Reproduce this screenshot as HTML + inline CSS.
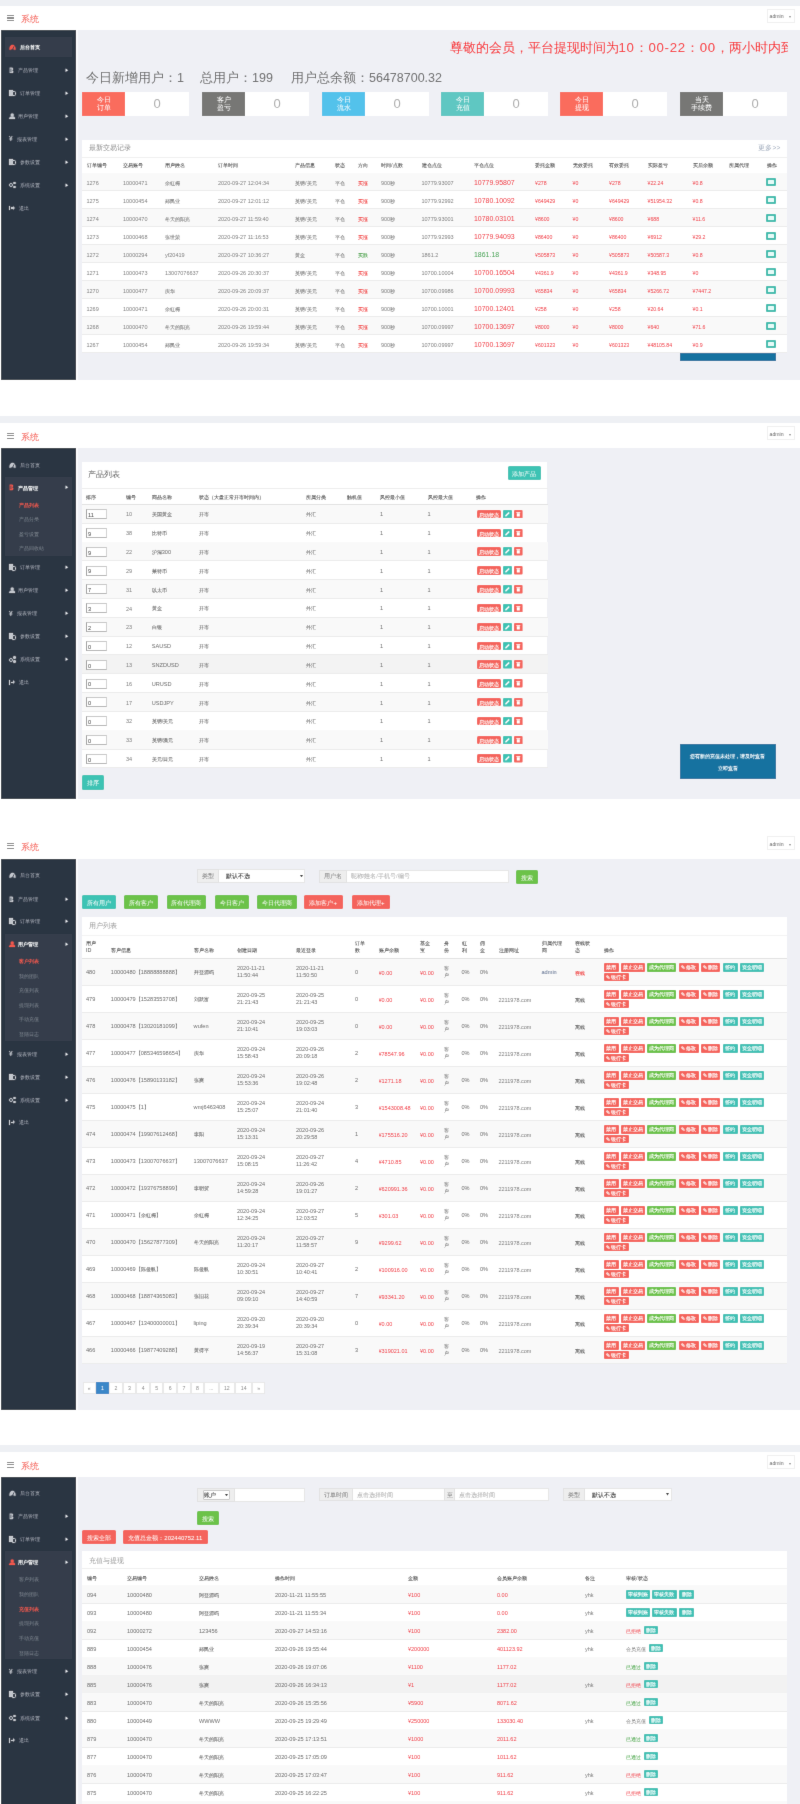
<!DOCTYPE html>
<html><head><meta charset="utf-8"><style>
html,body{margin:0;padding:0;background:#fff;width:800px;height:1804px;overflow:hidden}
body{position:relative;filter:url(#gb);font-family:"Liberation Sans",sans-serif}
body>div{position:absolute}
.t{white-space:nowrap}
.c{-webkit-text-stroke:0.08px currentColor}
.b{text-align:center;white-space:nowrap;overflow:hidden}
.bs{-webkit-text-stroke:0.12px currentColor}
</style></head><body><svg width="0" height="0" style="position:absolute;left:0;top:0"><filter id="gb" x="0" y="0" width="100%" height="100%"><feConvolveMatrix order="3" kernelMatrix="0.0052 0.0619 0.0052 0.0619 0.7314 0.0619 0.0052 0.0619 0.0052" edgeMode="duplicate" preserveAlpha="false"/></filter></svg>
<div style="left:0px;top:0px;width:800px;height:5.5px;background:#eef0f4;"></div>
<div style="left:0px;top:5.5px;width:800px;height:24.5px;background:#fff;"></div>
<div style="left:7px;top:15.15px;width:7px;height:1.3px;background:#858585;"></div>
<div style="left:7px;top:17.45px;width:7px;height:1.3px;background:#858585;"></div>
<div style="left:7px;top:19.75px;width:7px;height:1.3px;background:#858585;"></div>
<div class="t" style="left:21px;top:14.36px;font-size:8.6px;line-height:11.18px;color:#f4574d;">系统</div>
<div style="left:766.5px;top:8.55px;width:28px;height:14px;border:1px solid #f0f0f0;box-sizing:border-box;background:#fff"></div>
<div class="t" style="left:769.5px;top:13.17px;font-size:5.2px;line-height:6.76px;color:#666;">admin</div>
<div class="t" style="left:788.5px;top:14.25px;font-size:4px;line-height:5.20px;color:#888;">▾</div>
<div style="left:1px;top:30px;width:75px;height:350px;background:#2a3443;"></div>
<div style="left:75px;top:30px;width:1px;height:350px;background:#222b38;"></div>
<div style="left:5.3px;top:37px;width:66.9px;height:20px;background:#343e4c;"></div>
<svg style="position:absolute;left:8.8px;top:43.80px" width="7" height="6" viewBox="0 0 7 6"><path d="M0.2 5.8 C0.2 -1.0 6.8 -1.0 6.8 5.8 Z" fill="#f0584e"/><path d="M3.5 5.6 L5 2.4" stroke="#343e4c" stroke-width="0.9"/><path d="M2.3 5.6 L4.7 5.6" stroke="#343e4c" stroke-width="0.8"/></svg>
<div class="t" style="left:19.75px;top:43.79px;font-size:5.1px;line-height:6.63px;color:#fff;font-weight:bold">后台首页</div>
<svg style="position:absolute;left:9.2px;top:66.60px" width="5" height="6.8" viewBox="0 0 5 6.8"><path d="M0.6 0.5 H2.6 C4.6 0.5 4.6 3.2 2.8 3.3 C5 3.4 5 6.3 2.6 6.3 H0.6 Z" fill="#c3c7cd"/><path d="M1.9 1.6 V5.2" stroke="#2a3443" stroke-width="0.7"/></svg>
<div class="t" style="left:17.75px;top:66.78px;font-size:5.1px;line-height:6.63px;color:#aeb3bb;">产品管理</div>
<svg style="position:absolute;left:65.3px;top:67.70px" width="4" height="4.6" viewBox="0 0 4 4.6"><polygon points="0.5,0.6 3.1,2.3 0.5,4.0" fill="#e8eaee"/></svg>
<div style="left:9px;top:89.8px;width:4.2px;height:6.2px;background:#c3c7cd"></div>
<div style="left:11.6px;top:91.4px;width:4px;height:4.8px;border:1px solid #c3c7cd;box-sizing:border-box;border-radius:0 1.5px 1.5px 0;background:#2a3443"></div>
<div class="t" style="left:19.75px;top:89.78px;font-size:5.1px;line-height:6.63px;color:#aeb3bb;">订单管理</div>
<svg style="position:absolute;left:65.3px;top:90.70px" width="4" height="4.6" viewBox="0 0 4 4.6"><polygon points="0.5,0.6 3.1,2.3 0.5,4.0" fill="#e8eaee"/></svg>
<svg style="position:absolute;left:8.8px;top:112.60px" width="6.4" height="6.6" viewBox="0 0 6.4 6.6"><circle cx="3.2" cy="1.9" r="1.75" fill="#c3c7cd"/><path d="M0 6.6 C0 4.2 1.2 3.3 3.2 3.3 C5.2 3.3 6.4 4.2 6.4 6.6 Z" fill="#c3c7cd"/></svg>
<div class="t" style="left:18px;top:112.78px;font-size:5.1px;line-height:6.63px;color:#aeb3bb;">用户管理</div>
<svg style="position:absolute;left:65.3px;top:113.70px" width="4" height="4.6" viewBox="0 0 4 4.6"><polygon points="0.5,0.6 3.1,2.3 0.5,4.0" fill="#e8eaee"/></svg>
<div class="t" style="left:9px;top:135px;font-size:6.5px;line-height:8px;color:#c3c7cd;font-weight:bold">¥</div>
<div class="t" style="left:17px;top:135.78px;font-size:5.1px;line-height:6.63px;color:#aeb3bb;">报表管理</div>
<svg style="position:absolute;left:65.3px;top:136.70px" width="4" height="4.6" viewBox="0 0 4 4.6"><polygon points="0.5,0.6 3.1,2.3 0.5,4.0" fill="#e8eaee"/></svg>
<div style="left:9px;top:158.8px;width:4.2px;height:6.2px;background:#c3c7cd"></div>
<div style="left:11.6px;top:160.4px;width:4px;height:4.8px;border:1px solid #c3c7cd;box-sizing:border-box;border-radius:0 1.5px 1.5px 0;background:#2a3443"></div>
<div class="t" style="left:19.75px;top:158.78px;font-size:5.1px;line-height:6.63px;color:#aeb3bb;">参数设置</div>
<svg style="position:absolute;left:65.3px;top:159.70px" width="4" height="4.6" viewBox="0 0 4 4.6"><polygon points="0.5,0.6 3.1,2.3 0.5,4.0" fill="#e8eaee"/></svg>
<div style="left:9px;top:183px;width:4.2px;height:4.2px;border:1.2px solid #c3c7cd;border-radius:50%;box-sizing:border-box"></div>
<div style="left:13.2px;top:181.8px;width:2.6px;height:2.6px;background:#c3c7cd;border-radius:50%"></div>
<div style="left:13.2px;top:185.8px;width:2.6px;height:2.6px;background:#c3c7cd;border-radius:50%"></div>
<div class="t" style="left:20.2px;top:181.78px;font-size:5.1px;line-height:6.63px;color:#aeb3bb;">系统设置</div>
<svg style="position:absolute;left:65.3px;top:182.70px" width="4" height="4.6" viewBox="0 0 4 4.6"><polygon points="0.5,0.6 3.1,2.3 0.5,4.0" fill="#e8eaee"/></svg>
<div style="left:8.8px;top:205.8px;width:1.2px;height:4.4px;background:#c3c7cd"></div>
<div style="left:11px;top:207.2px;width:2px;height:1.6px;background:#c3c7cd"></div>
<div style="left:12.8px;top:205.8px;width:0;height:0;border-top:2.2px solid transparent;border-bottom:2.2px solid transparent;border-left:2.4px solid #c3c7cd"></div>
<div class="t" style="left:18.9px;top:204.78px;font-size:5.1px;line-height:6.63px;color:#aeb3bb;">退出</div>
<div style="left:76px;top:30px;width:2px;height:350px;background:#fafafc;"></div>
<div style="left:78px;top:30px;width:722px;height:350px;background:#eff0f5;"></div>
<div class="t" style="left:449.5px;top:38.92px;font-size:13.2px;line-height:17.16px;color:#f8262a;white-space:nowrap;width:338px;overflow:hidden">尊敬的会员，平台提现时间为<span style="letter-spacing:0.75px">10：00-22：00</span>，两小时内到账</div>
<div class="t" style="left:86px;top:69.88px;font-size:12.5px;line-height:16.25px;color:#686868;">今日新增用户：1</div>
<div class="t" style="left:200px;top:69.88px;font-size:12.5px;line-height:16.25px;color:#686868;">总用户：199</div>
<div class="t" style="left:291px;top:69.88px;font-size:12.5px;line-height:16.25px;color:#686868;">用户总余额：56478700.32</div>
<div style="left:82px;top:92px;width:107px;height:23.5px;background:#fff;"></div>
<div style="left:82px;top:92px;width:43px;height:23.5px;background:#fa6c5d;"></div>
<div class="t" style="left:82px;top:95.6px;width:43px;text-align:center;font-size:7.4px;line-height:8px;color:#fff">今日<br>订单</div>
<div class="t" style="left:137.00px;top:96.35px;width:40px;text-align:center;font-size:13px;line-height:16.90px;color:#aaa;">0</div>
<div style="left:202px;top:92px;width:107px;height:23.5px;background:#fff;"></div>
<div style="left:202px;top:92px;width:43px;height:23.5px;background:#777775;"></div>
<div class="t" style="left:202px;top:95.6px;width:43px;text-align:center;font-size:7.4px;line-height:8px;color:#fff">客户<br>盈亏</div>
<div class="t" style="left:257.00px;top:96.35px;width:40px;text-align:center;font-size:13px;line-height:16.90px;color:#aaa;">0</div>
<div style="left:322px;top:92px;width:107px;height:23.5px;background:#fff;"></div>
<div style="left:322px;top:92px;width:43px;height:23.5px;background:#52c2eb;"></div>
<div class="t" style="left:322px;top:95.6px;width:43px;text-align:center;font-size:7.4px;line-height:8px;color:#fff">今日<br>流水</div>
<div class="t" style="left:377.00px;top:96.35px;width:40px;text-align:center;font-size:13px;line-height:16.90px;color:#aaa;">0</div>
<div style="left:441px;top:92px;width:107px;height:23.5px;background:#fff;"></div>
<div style="left:441px;top:92px;width:43px;height:23.5px;background:#5ec7c2;"></div>
<div class="t" style="left:441px;top:95.6px;width:43px;text-align:center;font-size:7.4px;line-height:8px;color:#fff">今日<br>充值</div>
<div class="t" style="left:496.00px;top:96.35px;width:40px;text-align:center;font-size:13px;line-height:16.90px;color:#aaa;">0</div>
<div style="left:560px;top:92px;width:107px;height:23.5px;background:#fff;"></div>
<div style="left:560px;top:92px;width:43px;height:23.5px;background:#fa6c5d;"></div>
<div class="t" style="left:560px;top:95.6px;width:43px;text-align:center;font-size:7.4px;line-height:8px;color:#fff">今日<br>提现</div>
<div class="t" style="left:615.00px;top:96.35px;width:40px;text-align:center;font-size:13px;line-height:16.90px;color:#aaa;">0</div>
<div style="left:680px;top:92px;width:107px;height:23.5px;background:#fff;"></div>
<div style="left:680px;top:92px;width:43px;height:23.5px;background:#777775;"></div>
<div class="t" style="left:680px;top:95.6px;width:43px;text-align:center;font-size:7.4px;line-height:8px;color:#fff">当天<br>手续费</div>
<div class="t" style="left:735.00px;top:96.35px;width:40px;text-align:center;font-size:13px;line-height:16.90px;color:#aaa;">0</div>
<div style="left:680px;top:345px;width:96px;height:15.6px;background:#1272a0;"></div>
<div style="left:81.5px;top:139.5px;width:705px;height:213.5px;background:#fff;"></div>
<div class="t" style="left:88.5px;top:144.31px;font-size:6.6px;line-height:8.58px;color:#8a8a8a;">最新交易记录</div>
<div class="t" style="left:757.8px;top:144.11px;font-size:6.6px;line-height:8.58px;color:#9eaabb;letter-spacing:0.3px">更多&gt;&gt;</div>
<div style="left:81.5px;top:157px;width:705.5px;height:0.8px;background:#f0f0f0;"></div>
<div style="left:81.5px;top:172.5px;width:705.5px;height:1px;background:#e2e2e2;"></div>
<div class="t" style="left:86.5px;top:162.36px;font-size:5.6px;line-height:7.28px;color:#4a4a4a;"><span class="c" style="font-size:0.96em">订单编号</span></div>
<div class="t" style="left:123px;top:162.36px;font-size:5.6px;line-height:7.28px;color:#4a4a4a;"><span class="c" style="font-size:0.96em">交易账号</span></div>
<div class="t" style="left:165px;top:162.36px;font-size:5.6px;line-height:7.28px;color:#4a4a4a;"><span class="c" style="font-size:0.96em">用户姓名</span></div>
<div class="t" style="left:218px;top:162.36px;font-size:5.6px;line-height:7.28px;color:#4a4a4a;"><span class="c" style="font-size:0.96em">订单时间</span></div>
<div class="t" style="left:295px;top:162.36px;font-size:5.6px;line-height:7.28px;color:#4a4a4a;"><span class="c" style="font-size:0.96em">产品信息</span></div>
<div class="t" style="left:334.5px;top:162.36px;font-size:5.6px;line-height:7.28px;color:#4a4a4a;"><span class="c" style="font-size:0.96em">状态</span></div>
<div class="t" style="left:358px;top:162.36px;font-size:5.6px;line-height:7.28px;color:#4a4a4a;"><span class="c" style="font-size:0.96em">方向</span></div>
<div class="t" style="left:381px;top:162.36px;font-size:5.6px;line-height:7.28px;color:#4a4a4a;"><span class="c" style="font-size:0.96em">时间</span>/<span class="c" style="font-size:0.96em">点数</span></div>
<div class="t" style="left:421.5px;top:162.36px;font-size:5.6px;line-height:7.28px;color:#4a4a4a;"><span class="c" style="font-size:0.96em">建仓点位</span></div>
<div class="t" style="left:474px;top:162.36px;font-size:5.6px;line-height:7.28px;color:#4a4a4a;"><span class="c" style="font-size:0.96em">平仓点位</span></div>
<div class="t" style="left:535px;top:162.36px;font-size:5.6px;line-height:7.28px;color:#4a4a4a;"><span class="c" style="font-size:0.96em">委托金额</span></div>
<div class="t" style="left:572.5px;top:162.36px;font-size:5.6px;line-height:7.28px;color:#4a4a4a;"><span class="c" style="font-size:0.96em">无效委托</span></div>
<div class="t" style="left:609px;top:162.36px;font-size:5.6px;line-height:7.28px;color:#4a4a4a;"><span class="c" style="font-size:0.96em">有效委托</span></div>
<div class="t" style="left:647.5px;top:162.36px;font-size:5.6px;line-height:7.28px;color:#4a4a4a;"><span class="c" style="font-size:0.96em">实际盈亏</span></div>
<div class="t" style="left:692.5px;top:162.36px;font-size:5.6px;line-height:7.28px;color:#4a4a4a;"><span class="c" style="font-size:0.96em">买后余额</span></div>
<div class="t" style="left:728.5px;top:162.36px;font-size:5.6px;line-height:7.28px;color:#4a4a4a;"><span class="c" style="font-size:0.96em">所属代理</span></div>
<div class="t" style="left:766.5px;top:162.36px;font-size:5.6px;line-height:7.28px;color:#4a4a4a;"><span class="c" style="font-size:0.96em">操作</span></div>
<div style="left:81.5px;top:173px;width:705.5px;height:18px;background:#f9f9f9;"></div>
<div style="left:81.5px;top:190.3px;width:705.5px;height:0.7px;background:#ececec;"></div>
<div class="t" style="left:86.5px;top:179.62px;font-size:5.5px;line-height:7.15px;color:#7a7a7a;">1276</div>
<div class="t" style="left:123px;top:179.62px;font-size:5.5px;line-height:7.15px;color:#7a7a7a;">10000471</div>
<div class="t" style="left:165px;top:179.62px;font-size:5.5px;line-height:7.15px;color:#7a7a7a;"><span class="c" style="font-size:0.96em">余红梅</span></div>
<div class="t" style="left:218px;top:179.62px;font-size:5.5px;line-height:7.15px;color:#7a7a7a;">2020-09-27 12:04:34</div>
<div class="t" style="left:295px;top:179.62px;font-size:5.5px;line-height:7.15px;color:#7a7a7a;"><span class="c" style="font-size:0.96em">英镑</span>/<span class="c" style="font-size:0.96em">美元</span></div>
<div class="t" style="left:334.5px;top:179.62px;font-size:5.5px;line-height:7.15px;color:#7a7a7a;"><span class="c" style="font-size:0.96em">平仓</span></div>
<div class="t" style="left:358px;top:179.62px;font-size:5.5px;line-height:7.15px;color:#f03030;"><span class="c" style="font-size:0.96em">买涨</span></div>
<div class="t" style="left:381px;top:179.62px;font-size:5.5px;line-height:7.15px;color:#7a7a7a;">900<span class="c" style="font-size:0.96em">秒</span></div>
<div class="t" style="left:421.5px;top:179.62px;font-size:5.5px;line-height:7.15px;color:#7a7a7a;">10779.93007</div>
<div class="t" style="left:474px;top:178.00px;font-size:8px;line-height:10.40px;color:#f0303a;transform:scaleX(.87);transform-origin:0 50%">10779.95807</div>
<div class="t" style="left:535px;top:179.82px;font-size:5.2px;line-height:6.76px;color:#f0303a;">¥278</div>
<div class="t" style="left:572.5px;top:179.82px;font-size:5.2px;line-height:6.76px;color:#f0303a;">¥0</div>
<div class="t" style="left:609px;top:179.82px;font-size:5.2px;line-height:6.76px;color:#f0303a;">¥278</div>
<div class="t" style="left:647.5px;top:179.82px;font-size:5.2px;line-height:6.76px;color:#f0303a;">¥22.24</div>
<div class="t" style="left:692.5px;top:179.82px;font-size:5.2px;line-height:6.76px;color:#f0303a;">¥0.8</div>
<div style="left:765.5px;top:178.2px;width:10.5px;height:8px;background:#3cbdaf;border-radius:1px"></div>
<div style="left:768px;top:180.39999999999998px;width:5.5px;height:3.6px;background:#e6fbf8;border-radius:0.5px"></div>
<div style="left:81.5px;top:208.3px;width:705.5px;height:0.7px;background:#ececec;"></div>
<div class="t" style="left:86.5px;top:197.62px;font-size:5.5px;line-height:7.15px;color:#7a7a7a;">1275</div>
<div class="t" style="left:123px;top:197.62px;font-size:5.5px;line-height:7.15px;color:#7a7a7a;">10000454</div>
<div class="t" style="left:165px;top:197.62px;font-size:5.5px;line-height:7.15px;color:#7a7a7a;"><span class="c" style="font-size:0.96em">郑民业</span></div>
<div class="t" style="left:218px;top:197.62px;font-size:5.5px;line-height:7.15px;color:#7a7a7a;">2020-09-27 12:01:12</div>
<div class="t" style="left:295px;top:197.62px;font-size:5.5px;line-height:7.15px;color:#7a7a7a;"><span class="c" style="font-size:0.96em">英镑</span>/<span class="c" style="font-size:0.96em">美元</span></div>
<div class="t" style="left:334.5px;top:197.62px;font-size:5.5px;line-height:7.15px;color:#7a7a7a;"><span class="c" style="font-size:0.96em">平仓</span></div>
<div class="t" style="left:358px;top:197.62px;font-size:5.5px;line-height:7.15px;color:#f03030;"><span class="c" style="font-size:0.96em">买涨</span></div>
<div class="t" style="left:381px;top:197.62px;font-size:5.5px;line-height:7.15px;color:#7a7a7a;">900<span class="c" style="font-size:0.96em">秒</span></div>
<div class="t" style="left:421.5px;top:197.62px;font-size:5.5px;line-height:7.15px;color:#7a7a7a;">10779.92992</div>
<div class="t" style="left:474px;top:196.00px;font-size:8px;line-height:10.40px;color:#f0303a;transform:scaleX(.87);transform-origin:0 50%">10780.10092</div>
<div class="t" style="left:535px;top:197.82px;font-size:5.2px;line-height:6.76px;color:#f0303a;">¥649429</div>
<div class="t" style="left:572.5px;top:197.82px;font-size:5.2px;line-height:6.76px;color:#f0303a;">¥0</div>
<div class="t" style="left:609px;top:197.82px;font-size:5.2px;line-height:6.76px;color:#f0303a;">¥649429</div>
<div class="t" style="left:647.5px;top:197.82px;font-size:5.2px;line-height:6.76px;color:#f0303a;">¥51954.32</div>
<div class="t" style="left:692.5px;top:197.82px;font-size:5.2px;line-height:6.76px;color:#f0303a;">¥0.8</div>
<div style="left:765.5px;top:196.2px;width:10.5px;height:8px;background:#3cbdaf;border-radius:1px"></div>
<div style="left:768px;top:198.39999999999998px;width:5.5px;height:3.6px;background:#e6fbf8;border-radius:0.5px"></div>
<div style="left:81.5px;top:209px;width:705.5px;height:18px;background:#f9f9f9;"></div>
<div style="left:81.5px;top:226.3px;width:705.5px;height:0.7px;background:#ececec;"></div>
<div class="t" style="left:86.5px;top:215.62px;font-size:5.5px;line-height:7.15px;color:#7a7a7a;">1274</div>
<div class="t" style="left:123px;top:215.62px;font-size:5.5px;line-height:7.15px;color:#7a7a7a;">10000470</div>
<div class="t" style="left:165px;top:215.62px;font-size:5.5px;line-height:7.15px;color:#7a7a7a;"><span class="c" style="font-size:0.96em">冬天的阳光</span></div>
<div class="t" style="left:218px;top:215.62px;font-size:5.5px;line-height:7.15px;color:#7a7a7a;">2020-09-27 11:59:40</div>
<div class="t" style="left:295px;top:215.62px;font-size:5.5px;line-height:7.15px;color:#7a7a7a;"><span class="c" style="font-size:0.96em">英镑</span>/<span class="c" style="font-size:0.96em">美元</span></div>
<div class="t" style="left:334.5px;top:215.62px;font-size:5.5px;line-height:7.15px;color:#7a7a7a;"><span class="c" style="font-size:0.96em">平仓</span></div>
<div class="t" style="left:358px;top:215.62px;font-size:5.5px;line-height:7.15px;color:#f03030;"><span class="c" style="font-size:0.96em">买涨</span></div>
<div class="t" style="left:381px;top:215.62px;font-size:5.5px;line-height:7.15px;color:#7a7a7a;">900<span class="c" style="font-size:0.96em">秒</span></div>
<div class="t" style="left:421.5px;top:215.62px;font-size:5.5px;line-height:7.15px;color:#7a7a7a;">10779.93001</div>
<div class="t" style="left:474px;top:214.00px;font-size:8px;line-height:10.40px;color:#f0303a;transform:scaleX(.87);transform-origin:0 50%">10780.03101</div>
<div class="t" style="left:535px;top:215.82px;font-size:5.2px;line-height:6.76px;color:#f0303a;">¥8600</div>
<div class="t" style="left:572.5px;top:215.82px;font-size:5.2px;line-height:6.76px;color:#f0303a;">¥0</div>
<div class="t" style="left:609px;top:215.82px;font-size:5.2px;line-height:6.76px;color:#f0303a;">¥8600</div>
<div class="t" style="left:647.5px;top:215.82px;font-size:5.2px;line-height:6.76px;color:#f0303a;">¥688</div>
<div class="t" style="left:692.5px;top:215.82px;font-size:5.2px;line-height:6.76px;color:#f0303a;">¥11.6</div>
<div style="left:765.5px;top:214.2px;width:10.5px;height:8px;background:#3cbdaf;border-radius:1px"></div>
<div style="left:768px;top:216.39999999999998px;width:5.5px;height:3.6px;background:#e6fbf8;border-radius:0.5px"></div>
<div style="left:81.5px;top:244.3px;width:705.5px;height:0.7px;background:#ececec;"></div>
<div class="t" style="left:86.5px;top:233.62px;font-size:5.5px;line-height:7.15px;color:#7a7a7a;">1273</div>
<div class="t" style="left:123px;top:233.62px;font-size:5.5px;line-height:7.15px;color:#7a7a7a;">10000468</div>
<div class="t" style="left:165px;top:233.62px;font-size:5.5px;line-height:7.15px;color:#7a7a7a;"><span class="c" style="font-size:0.96em">张世荣</span></div>
<div class="t" style="left:218px;top:233.62px;font-size:5.5px;line-height:7.15px;color:#7a7a7a;">2020-09-27 11:16:53</div>
<div class="t" style="left:295px;top:233.62px;font-size:5.5px;line-height:7.15px;color:#7a7a7a;"><span class="c" style="font-size:0.96em">英镑</span>/<span class="c" style="font-size:0.96em">美元</span></div>
<div class="t" style="left:334.5px;top:233.62px;font-size:5.5px;line-height:7.15px;color:#7a7a7a;"><span class="c" style="font-size:0.96em">平仓</span></div>
<div class="t" style="left:358px;top:233.62px;font-size:5.5px;line-height:7.15px;color:#f03030;"><span class="c" style="font-size:0.96em">买涨</span></div>
<div class="t" style="left:381px;top:233.62px;font-size:5.5px;line-height:7.15px;color:#7a7a7a;">900<span class="c" style="font-size:0.96em">秒</span></div>
<div class="t" style="left:421.5px;top:233.62px;font-size:5.5px;line-height:7.15px;color:#7a7a7a;">10779.92993</div>
<div class="t" style="left:474px;top:232.00px;font-size:8px;line-height:10.40px;color:#f0303a;transform:scaleX(.87);transform-origin:0 50%">10779.94093</div>
<div class="t" style="left:535px;top:233.82px;font-size:5.2px;line-height:6.76px;color:#f0303a;">¥86400</div>
<div class="t" style="left:572.5px;top:233.82px;font-size:5.2px;line-height:6.76px;color:#f0303a;">¥0</div>
<div class="t" style="left:609px;top:233.82px;font-size:5.2px;line-height:6.76px;color:#f0303a;">¥86400</div>
<div class="t" style="left:647.5px;top:233.82px;font-size:5.2px;line-height:6.76px;color:#f0303a;">¥6912</div>
<div class="t" style="left:692.5px;top:233.82px;font-size:5.2px;line-height:6.76px;color:#f0303a;">¥29.2</div>
<div style="left:765.5px;top:232.2px;width:10.5px;height:8px;background:#3cbdaf;border-radius:1px"></div>
<div style="left:768px;top:234.39999999999998px;width:5.5px;height:3.6px;background:#e6fbf8;border-radius:0.5px"></div>
<div style="left:81.5px;top:245px;width:705.5px;height:18px;background:#f9f9f9;"></div>
<div style="left:81.5px;top:262.3px;width:705.5px;height:0.7px;background:#ececec;"></div>
<div class="t" style="left:86.5px;top:251.62px;font-size:5.5px;line-height:7.15px;color:#7a7a7a;">1272</div>
<div class="t" style="left:123px;top:251.62px;font-size:5.5px;line-height:7.15px;color:#7a7a7a;">10000294</div>
<div class="t" style="left:165px;top:251.62px;font-size:5.5px;line-height:7.15px;color:#7a7a7a;">yf20419</div>
<div class="t" style="left:218px;top:251.62px;font-size:5.5px;line-height:7.15px;color:#7a7a7a;">2020-09-27 10:36:27</div>
<div class="t" style="left:295px;top:251.62px;font-size:5.5px;line-height:7.15px;color:#7a7a7a;"><span class="c" style="font-size:0.96em">黄金</span></div>
<div class="t" style="left:334.5px;top:251.62px;font-size:5.5px;line-height:7.15px;color:#7a7a7a;"><span class="c" style="font-size:0.96em">平仓</span></div>
<div class="t" style="left:358px;top:251.62px;font-size:5.5px;line-height:7.15px;color:#3a9a3a;"><span class="c" style="font-size:0.96em">买跌</span></div>
<div class="t" style="left:381px;top:251.62px;font-size:5.5px;line-height:7.15px;color:#7a7a7a;">900<span class="c" style="font-size:0.96em">秒</span></div>
<div class="t" style="left:421.5px;top:251.62px;font-size:5.5px;line-height:7.15px;color:#7a7a7a;">1861.2</div>
<div class="t" style="left:474px;top:250.00px;font-size:8px;line-height:10.40px;color:#3aa04a;transform:scaleX(.87);transform-origin:0 50%">1861.18</div>
<div class="t" style="left:535px;top:251.82px;font-size:5.2px;line-height:6.76px;color:#f0303a;">¥505873</div>
<div class="t" style="left:572.5px;top:251.82px;font-size:5.2px;line-height:6.76px;color:#f0303a;">¥0</div>
<div class="t" style="left:609px;top:251.82px;font-size:5.2px;line-height:6.76px;color:#f0303a;">¥505873</div>
<div class="t" style="left:647.5px;top:251.82px;font-size:5.2px;line-height:6.76px;color:#f0303a;">¥50587.3</div>
<div class="t" style="left:692.5px;top:251.82px;font-size:5.2px;line-height:6.76px;color:#f0303a;">¥0.8</div>
<div style="left:765.5px;top:250.2px;width:10.5px;height:8px;background:#3cbdaf;border-radius:1px"></div>
<div style="left:768px;top:252.39999999999998px;width:5.5px;height:3.6px;background:#e6fbf8;border-radius:0.5px"></div>
<div style="left:81.5px;top:280.3px;width:705.5px;height:0.7px;background:#ececec;"></div>
<div class="t" style="left:86.5px;top:269.62px;font-size:5.5px;line-height:7.15px;color:#7a7a7a;">1271</div>
<div class="t" style="left:123px;top:269.62px;font-size:5.5px;line-height:7.15px;color:#7a7a7a;">10000473</div>
<div class="t" style="left:165px;top:269.62px;font-size:5.5px;line-height:7.15px;color:#7a7a7a;">13007076637</div>
<div class="t" style="left:218px;top:269.62px;font-size:5.5px;line-height:7.15px;color:#7a7a7a;">2020-09-26 20:30:37</div>
<div class="t" style="left:295px;top:269.62px;font-size:5.5px;line-height:7.15px;color:#7a7a7a;"><span class="c" style="font-size:0.96em">英镑</span>/<span class="c" style="font-size:0.96em">美元</span></div>
<div class="t" style="left:334.5px;top:269.62px;font-size:5.5px;line-height:7.15px;color:#7a7a7a;"><span class="c" style="font-size:0.96em">平仓</span></div>
<div class="t" style="left:358px;top:269.62px;font-size:5.5px;line-height:7.15px;color:#f03030;"><span class="c" style="font-size:0.96em">买涨</span></div>
<div class="t" style="left:381px;top:269.62px;font-size:5.5px;line-height:7.15px;color:#7a7a7a;">900<span class="c" style="font-size:0.96em">秒</span></div>
<div class="t" style="left:421.5px;top:269.62px;font-size:5.5px;line-height:7.15px;color:#7a7a7a;">10700.10004</div>
<div class="t" style="left:474px;top:268.00px;font-size:8px;line-height:10.40px;color:#f0303a;transform:scaleX(.87);transform-origin:0 50%">10700.16504</div>
<div class="t" style="left:535px;top:269.82px;font-size:5.2px;line-height:6.76px;color:#f0303a;">¥4361.9</div>
<div class="t" style="left:572.5px;top:269.82px;font-size:5.2px;line-height:6.76px;color:#f0303a;">¥0</div>
<div class="t" style="left:609px;top:269.82px;font-size:5.2px;line-height:6.76px;color:#f0303a;">¥4361.9</div>
<div class="t" style="left:647.5px;top:269.82px;font-size:5.2px;line-height:6.76px;color:#f0303a;">¥348.95</div>
<div class="t" style="left:692.5px;top:269.82px;font-size:5.2px;line-height:6.76px;color:#f0303a;">¥0</div>
<div style="left:765.5px;top:268.2px;width:10.5px;height:8px;background:#3cbdaf;border-radius:1px"></div>
<div style="left:768px;top:270.4px;width:5.5px;height:3.6px;background:#e6fbf8;border-radius:0.5px"></div>
<div style="left:81.5px;top:281px;width:705.5px;height:18px;background:#f9f9f9;"></div>
<div style="left:81.5px;top:298.3px;width:705.5px;height:0.7px;background:#ececec;"></div>
<div class="t" style="left:86.5px;top:287.62px;font-size:5.5px;line-height:7.15px;color:#7a7a7a;">1270</div>
<div class="t" style="left:123px;top:287.62px;font-size:5.5px;line-height:7.15px;color:#7a7a7a;">10000477</div>
<div class="t" style="left:165px;top:287.62px;font-size:5.5px;line-height:7.15px;color:#7a7a7a;"><span class="c" style="font-size:0.96em">庆华</span></div>
<div class="t" style="left:218px;top:287.62px;font-size:5.5px;line-height:7.15px;color:#7a7a7a;">2020-09-26 20:09:37</div>
<div class="t" style="left:295px;top:287.62px;font-size:5.5px;line-height:7.15px;color:#7a7a7a;"><span class="c" style="font-size:0.96em">英镑</span>/<span class="c" style="font-size:0.96em">美元</span></div>
<div class="t" style="left:334.5px;top:287.62px;font-size:5.5px;line-height:7.15px;color:#7a7a7a;"><span class="c" style="font-size:0.96em">平仓</span></div>
<div class="t" style="left:358px;top:287.62px;font-size:5.5px;line-height:7.15px;color:#f03030;"><span class="c" style="font-size:0.96em">买涨</span></div>
<div class="t" style="left:381px;top:287.62px;font-size:5.5px;line-height:7.15px;color:#7a7a7a;">900<span class="c" style="font-size:0.96em">秒</span></div>
<div class="t" style="left:421.5px;top:287.62px;font-size:5.5px;line-height:7.15px;color:#7a7a7a;">10700.09986</div>
<div class="t" style="left:474px;top:286.00px;font-size:8px;line-height:10.40px;color:#f0303a;transform:scaleX(.87);transform-origin:0 50%">10700.09993</div>
<div class="t" style="left:535px;top:287.82px;font-size:5.2px;line-height:6.76px;color:#f0303a;">¥65834</div>
<div class="t" style="left:572.5px;top:287.82px;font-size:5.2px;line-height:6.76px;color:#f0303a;">¥0</div>
<div class="t" style="left:609px;top:287.82px;font-size:5.2px;line-height:6.76px;color:#f0303a;">¥65834</div>
<div class="t" style="left:647.5px;top:287.82px;font-size:5.2px;line-height:6.76px;color:#f0303a;">¥5266.72</div>
<div class="t" style="left:692.5px;top:287.82px;font-size:5.2px;line-height:6.76px;color:#f0303a;">¥7447.2</div>
<div style="left:765.5px;top:286.2px;width:10.5px;height:8px;background:#3cbdaf;border-radius:1px"></div>
<div style="left:768px;top:288.4px;width:5.5px;height:3.6px;background:#e6fbf8;border-radius:0.5px"></div>
<div style="left:81.5px;top:316.3px;width:705.5px;height:0.7px;background:#ececec;"></div>
<div class="t" style="left:86.5px;top:305.62px;font-size:5.5px;line-height:7.15px;color:#7a7a7a;">1269</div>
<div class="t" style="left:123px;top:305.62px;font-size:5.5px;line-height:7.15px;color:#7a7a7a;">10000471</div>
<div class="t" style="left:165px;top:305.62px;font-size:5.5px;line-height:7.15px;color:#7a7a7a;"><span class="c" style="font-size:0.96em">余红梅</span></div>
<div class="t" style="left:218px;top:305.62px;font-size:5.5px;line-height:7.15px;color:#7a7a7a;">2020-09-26 20:00:31</div>
<div class="t" style="left:295px;top:305.62px;font-size:5.5px;line-height:7.15px;color:#7a7a7a;"><span class="c" style="font-size:0.96em">英镑</span>/<span class="c" style="font-size:0.96em">美元</span></div>
<div class="t" style="left:334.5px;top:305.62px;font-size:5.5px;line-height:7.15px;color:#7a7a7a;"><span class="c" style="font-size:0.96em">平仓</span></div>
<div class="t" style="left:358px;top:305.62px;font-size:5.5px;line-height:7.15px;color:#f03030;"><span class="c" style="font-size:0.96em">买涨</span></div>
<div class="t" style="left:381px;top:305.62px;font-size:5.5px;line-height:7.15px;color:#7a7a7a;">900<span class="c" style="font-size:0.96em">秒</span></div>
<div class="t" style="left:421.5px;top:305.62px;font-size:5.5px;line-height:7.15px;color:#7a7a7a;">10700.10001</div>
<div class="t" style="left:474px;top:304.00px;font-size:8px;line-height:10.40px;color:#f0303a;transform:scaleX(.87);transform-origin:0 50%">10700.12401</div>
<div class="t" style="left:535px;top:305.82px;font-size:5.2px;line-height:6.76px;color:#f0303a;">¥258</div>
<div class="t" style="left:572.5px;top:305.82px;font-size:5.2px;line-height:6.76px;color:#f0303a;">¥0</div>
<div class="t" style="left:609px;top:305.82px;font-size:5.2px;line-height:6.76px;color:#f0303a;">¥258</div>
<div class="t" style="left:647.5px;top:305.82px;font-size:5.2px;line-height:6.76px;color:#f0303a;">¥20.64</div>
<div class="t" style="left:692.5px;top:305.82px;font-size:5.2px;line-height:6.76px;color:#f0303a;">¥0.1</div>
<div style="left:765.5px;top:304.2px;width:10.5px;height:8px;background:#3cbdaf;border-radius:1px"></div>
<div style="left:768px;top:306.4px;width:5.5px;height:3.6px;background:#e6fbf8;border-radius:0.5px"></div>
<div style="left:81.5px;top:317px;width:705.5px;height:18px;background:#f9f9f9;"></div>
<div style="left:81.5px;top:334.3px;width:705.5px;height:0.7px;background:#ececec;"></div>
<div class="t" style="left:86.5px;top:323.62px;font-size:5.5px;line-height:7.15px;color:#7a7a7a;">1268</div>
<div class="t" style="left:123px;top:323.62px;font-size:5.5px;line-height:7.15px;color:#7a7a7a;">10000470</div>
<div class="t" style="left:165px;top:323.62px;font-size:5.5px;line-height:7.15px;color:#7a7a7a;"><span class="c" style="font-size:0.96em">冬天的阳光</span></div>
<div class="t" style="left:218px;top:323.62px;font-size:5.5px;line-height:7.15px;color:#7a7a7a;">2020-09-26 19:59:44</div>
<div class="t" style="left:295px;top:323.62px;font-size:5.5px;line-height:7.15px;color:#7a7a7a;"><span class="c" style="font-size:0.96em">英镑</span>/<span class="c" style="font-size:0.96em">美元</span></div>
<div class="t" style="left:334.5px;top:323.62px;font-size:5.5px;line-height:7.15px;color:#7a7a7a;"><span class="c" style="font-size:0.96em">平仓</span></div>
<div class="t" style="left:358px;top:323.62px;font-size:5.5px;line-height:7.15px;color:#f03030;"><span class="c" style="font-size:0.96em">买涨</span></div>
<div class="t" style="left:381px;top:323.62px;font-size:5.5px;line-height:7.15px;color:#7a7a7a;">900<span class="c" style="font-size:0.96em">秒</span></div>
<div class="t" style="left:421.5px;top:323.62px;font-size:5.5px;line-height:7.15px;color:#7a7a7a;">10700.09997</div>
<div class="t" style="left:474px;top:322.00px;font-size:8px;line-height:10.40px;color:#f0303a;transform:scaleX(.87);transform-origin:0 50%">10700.13697</div>
<div class="t" style="left:535px;top:323.82px;font-size:5.2px;line-height:6.76px;color:#f0303a;">¥8000</div>
<div class="t" style="left:572.5px;top:323.82px;font-size:5.2px;line-height:6.76px;color:#f0303a;">¥0</div>
<div class="t" style="left:609px;top:323.82px;font-size:5.2px;line-height:6.76px;color:#f0303a;">¥8000</div>
<div class="t" style="left:647.5px;top:323.82px;font-size:5.2px;line-height:6.76px;color:#f0303a;">¥640</div>
<div class="t" style="left:692.5px;top:323.82px;font-size:5.2px;line-height:6.76px;color:#f0303a;">¥71.6</div>
<div style="left:765.5px;top:322.2px;width:10.5px;height:8px;background:#3cbdaf;border-radius:1px"></div>
<div style="left:768px;top:324.4px;width:5.5px;height:3.6px;background:#e6fbf8;border-radius:0.5px"></div>
<div style="left:81.5px;top:352.3px;width:705.5px;height:0.7px;background:#ececec;"></div>
<div class="t" style="left:86.5px;top:341.62px;font-size:5.5px;line-height:7.15px;color:#7a7a7a;">1267</div>
<div class="t" style="left:123px;top:341.62px;font-size:5.5px;line-height:7.15px;color:#7a7a7a;">10000454</div>
<div class="t" style="left:165px;top:341.62px;font-size:5.5px;line-height:7.15px;color:#7a7a7a;"><span class="c" style="font-size:0.96em">郑民业</span></div>
<div class="t" style="left:218px;top:341.62px;font-size:5.5px;line-height:7.15px;color:#7a7a7a;">2020-09-26 19:59:34</div>
<div class="t" style="left:295px;top:341.62px;font-size:5.5px;line-height:7.15px;color:#7a7a7a;"><span class="c" style="font-size:0.96em">英镑</span>/<span class="c" style="font-size:0.96em">美元</span></div>
<div class="t" style="left:334.5px;top:341.62px;font-size:5.5px;line-height:7.15px;color:#7a7a7a;"><span class="c" style="font-size:0.96em">平仓</span></div>
<div class="t" style="left:358px;top:341.62px;font-size:5.5px;line-height:7.15px;color:#f03030;"><span class="c" style="font-size:0.96em">买涨</span></div>
<div class="t" style="left:381px;top:341.62px;font-size:5.5px;line-height:7.15px;color:#7a7a7a;">900<span class="c" style="font-size:0.96em">秒</span></div>
<div class="t" style="left:421.5px;top:341.62px;font-size:5.5px;line-height:7.15px;color:#7a7a7a;">10700.09997</div>
<div class="t" style="left:474px;top:340.00px;font-size:8px;line-height:10.40px;color:#f0303a;transform:scaleX(.87);transform-origin:0 50%">10700.13697</div>
<div class="t" style="left:535px;top:341.82px;font-size:5.2px;line-height:6.76px;color:#f0303a;">¥601323</div>
<div class="t" style="left:572.5px;top:341.82px;font-size:5.2px;line-height:6.76px;color:#f0303a;">¥0</div>
<div class="t" style="left:609px;top:341.82px;font-size:5.2px;line-height:6.76px;color:#f0303a;">¥601323</div>
<div class="t" style="left:647.5px;top:341.82px;font-size:5.2px;line-height:6.76px;color:#f0303a;">¥48105.84</div>
<div class="t" style="left:692.5px;top:341.82px;font-size:5.2px;line-height:6.76px;color:#f0303a;">¥0.9</div>
<div style="left:765.5px;top:340.2px;width:10.5px;height:8px;background:#3cbdaf;border-radius:1px"></div>
<div style="left:768px;top:342.4px;width:5.5px;height:3.6px;background:#e6fbf8;border-radius:0.5px"></div>
<div style="left:0px;top:415.5px;width:800px;height:7.5px;background:#eef0f4;"></div>
<div style="left:0px;top:423px;width:800px;height:25px;background:#fff;"></div>
<div style="left:7px;top:432.9px;width:7px;height:1.3px;background:#858585;"></div>
<div style="left:7px;top:435.2px;width:7px;height:1.3px;background:#858585;"></div>
<div style="left:7px;top:437.5px;width:7px;height:1.3px;background:#858585;"></div>
<div class="t" style="left:21px;top:432.11px;font-size:8.6px;line-height:11.18px;color:#f4574d;">系统</div>
<div style="left:766.5px;top:426.3px;width:28px;height:14px;border:1px solid #f0f0f0;box-sizing:border-box;background:#fff"></div>
<div class="t" style="left:769.5px;top:430.92px;font-size:5.2px;line-height:6.76px;color:#666;">admin</div>
<div class="t" style="left:788.5px;top:432.00px;font-size:4px;line-height:5.20px;color:#888;">▾</div>
<div style="left:1px;top:448px;width:75px;height:351px;background:#2a3443;"></div>
<div style="left:75px;top:448px;width:1px;height:351px;background:#222b38;"></div>
<div style="left:5.3px;top:477px;width:66.9px;height:78.60000000000002px;background:#343e4c;"></div>
<svg style="position:absolute;left:8.8px;top:461.80px" width="7" height="6" viewBox="0 0 7 6"><path d="M0.2 5.8 C0.2 -1.0 6.8 -1.0 6.8 5.8 Z" fill="#c3c7cd"/><path d="M3.5 5.6 L5 2.4" stroke="#2a3443" stroke-width="0.9"/><path d="M2.3 5.6 L4.7 5.6" stroke="#2a3443" stroke-width="0.8"/></svg>
<div class="t" style="left:19.75px;top:461.79px;font-size:5.1px;line-height:6.63px;color:#aeb3bb;">后台首页</div>
<svg style="position:absolute;left:9.2px;top:484.35px" width="5" height="6.8" viewBox="0 0 5 6.8"><path d="M0.6 0.5 H2.6 C4.6 0.5 4.6 3.2 2.8 3.3 C5 3.4 5 6.3 2.6 6.3 H0.6 Z" fill="#f0584e"/><path d="M1.9 1.6 V5.2" stroke="#343e4c" stroke-width="0.7"/></svg>
<div class="t" style="left:17.75px;top:484.54px;font-size:5.1px;line-height:6.63px;color:#fff;font-weight:bold">产品管理</div>
<svg style="position:absolute;left:65.3px;top:485.45px" width="4" height="4.6" viewBox="0 0 4 4.6"><polygon points="0.5,0.6 3.1,2.3 0.5,4.0" fill="#e8eaee"/></svg>
<div style="left:9px;top:564.3px;width:4.2px;height:6.2px;background:#c3c7cd"></div>
<div style="left:11.6px;top:565.9px;width:4px;height:4.8px;border:1px solid #c3c7cd;box-sizing:border-box;border-radius:0 1.5px 1.5px 0;background:#2a3443"></div>
<div class="t" style="left:19.75px;top:564.28px;font-size:5.1px;line-height:6.63px;color:#aeb3bb;">订单管理</div>
<svg style="position:absolute;left:65.3px;top:565.20px" width="4" height="4.6" viewBox="0 0 4 4.6"><polygon points="0.5,0.6 3.1,2.3 0.5,4.0" fill="#e8eaee"/></svg>
<svg style="position:absolute;left:8.8px;top:586.60px" width="6.4" height="6.6" viewBox="0 0 6.4 6.6"><circle cx="3.2" cy="1.9" r="1.75" fill="#c3c7cd"/><path d="M0 6.6 C0 4.2 1.2 3.3 3.2 3.3 C5.2 3.3 6.4 4.2 6.4 6.6 Z" fill="#c3c7cd"/></svg>
<div class="t" style="left:18px;top:586.78px;font-size:5.1px;line-height:6.63px;color:#aeb3bb;">用户管理</div>
<svg style="position:absolute;left:65.3px;top:587.70px" width="4" height="4.6" viewBox="0 0 4 4.6"><polygon points="0.5,0.6 3.1,2.3 0.5,4.0" fill="#e8eaee"/></svg>
<div class="t" style="left:9px;top:609.5px;font-size:6.5px;line-height:8px;color:#c3c7cd;font-weight:bold">¥</div>
<div class="t" style="left:17px;top:610.28px;font-size:5.1px;line-height:6.63px;color:#aeb3bb;">报表管理</div>
<svg style="position:absolute;left:65.3px;top:611.20px" width="4" height="4.6" viewBox="0 0 4 4.6"><polygon points="0.5,0.6 3.1,2.3 0.5,4.0" fill="#e8eaee"/></svg>
<div style="left:9px;top:633.3px;width:4.2px;height:6.2px;background:#c3c7cd"></div>
<div style="left:11.6px;top:634.9px;width:4px;height:4.8px;border:1px solid #c3c7cd;box-sizing:border-box;border-radius:0 1.5px 1.5px 0;background:#2a3443"></div>
<div class="t" style="left:19.75px;top:633.28px;font-size:5.1px;line-height:6.63px;color:#aeb3bb;">参数设置</div>
<svg style="position:absolute;left:65.3px;top:634.20px" width="4" height="4.6" viewBox="0 0 4 4.6"><polygon points="0.5,0.6 3.1,2.3 0.5,4.0" fill="#e8eaee"/></svg>
<div style="left:9px;top:657.5px;width:4.2px;height:4.2px;border:1.2px solid #c3c7cd;border-radius:50%;box-sizing:border-box"></div>
<div style="left:13.2px;top:656.3px;width:2.6px;height:2.6px;background:#c3c7cd;border-radius:50%"></div>
<div style="left:13.2px;top:660.3px;width:2.6px;height:2.6px;background:#c3c7cd;border-radius:50%"></div>
<div class="t" style="left:20.2px;top:656.28px;font-size:5.1px;line-height:6.63px;color:#aeb3bb;">系统设置</div>
<svg style="position:absolute;left:65.3px;top:657.20px" width="4" height="4.6" viewBox="0 0 4 4.6"><polygon points="0.5,0.6 3.1,2.3 0.5,4.0" fill="#e8eaee"/></svg>
<div style="left:8.8px;top:680.3px;width:1.2px;height:4.4px;background:#c3c7cd"></div>
<div style="left:11px;top:681.7px;width:2px;height:1.6px;background:#c3c7cd"></div>
<div style="left:12.8px;top:680.3px;width:0;height:0;border-top:2.2px solid transparent;border-bottom:2.2px solid transparent;border-left:2.4px solid #c3c7cd"></div>
<div class="t" style="left:18.9px;top:679.28px;font-size:5.1px;line-height:6.63px;color:#aeb3bb;">退出</div>
<div class="t" style="left:18.7px;top:501.54px;font-size:5.1px;line-height:6.63px;color:#f0584e;font-weight:bold">产品列表</div>
<div class="t" style="left:18.7px;top:515.78px;font-size:5.1px;line-height:6.63px;color:#80868f;">产品分类</div>
<div class="t" style="left:18.7px;top:530.53px;font-size:5.1px;line-height:6.63px;color:#80868f;">盈亏设置</div>
<div class="t" style="left:18.7px;top:544.78px;font-size:5.1px;line-height:6.63px;color:#80868f;">产品回收站</div>
<div style="left:76px;top:448px;width:2px;height:351px;background:#fafafc;"></div>
<div style="left:78px;top:448px;width:722px;height:351px;background:#eff0f5;"></div>
<div style="left:81.5px;top:461.8px;width:465.4px;height:306.3px;background:#fff;"></div>
<div class="t" style="left:88px;top:469.80px;font-size:8px;line-height:10.40px;color:#555;">产品列表</div>
<div class="b" style="left:507.5px;top:466px;width:33.5px;height:14px;background:#3ec3b4;border-radius:1.5px;font-size:6.1px;line-height:16.0px;color:#fff">添加产品</div>
<div style="left:81.5px;top:488px;width:466px;height:0.8px;background:#eee;"></div>
<div style="left:81.5px;top:504px;width:466px;height:1px;background:#e2e2e2;"></div>
<div class="t" style="left:86px;top:494.36px;font-size:5.6px;line-height:7.28px;color:#4a4a4a;"><span class="c" style="font-size:0.96em">排序</span></div>
<div class="t" style="left:126px;top:494.36px;font-size:5.6px;line-height:7.28px;color:#4a4a4a;"><span class="c" style="font-size:0.96em">编号</span></div>
<div class="t" style="left:151.75px;top:494.36px;font-size:5.6px;line-height:7.28px;color:#4a4a4a;"><span class="c" style="font-size:0.96em">商品名称</span></div>
<div class="t" style="left:199px;top:494.36px;font-size:5.6px;line-height:7.28px;color:#4a4a4a;"><span class="c" style="font-size:0.96em">状态（大盘正常开市时间内）</span></div>
<div class="t" style="left:306px;top:494.36px;font-size:5.6px;line-height:7.28px;color:#4a4a4a;"><span class="c" style="font-size:0.96em">所属分类</span></div>
<div class="t" style="left:347px;top:494.36px;font-size:5.6px;line-height:7.28px;color:#4a4a4a;"><span class="c" style="font-size:0.96em">触机值</span></div>
<div class="t" style="left:380px;top:494.36px;font-size:5.6px;line-height:7.28px;color:#4a4a4a;"><span class="c" style="font-size:0.96em">风控最小值</span></div>
<div class="t" style="left:427.5px;top:494.36px;font-size:5.6px;line-height:7.28px;color:#4a4a4a;"><span class="c" style="font-size:0.96em">风控最大值</span></div>
<div class="t" style="left:476px;top:494.36px;font-size:5.6px;line-height:7.28px;color:#4a4a4a;"><span class="c" style="font-size:0.96em">操作</span></div>
<div style="left:81.5px;top:504.6px;width:466px;height:18.82px;background:#f9f9f9;"></div>
<div style="left:81.5px;top:522.7px;width:466px;height:0.7px;background:#ececec;"></div>
<div style="left:86.2px;top:509.20px;width:21.2px;height:10px;border:0.9px solid;border-color:#c6c6c6 #d2d2d2 #b4b4b4 #9c9c9c;box-sizing:border-box;background:#fff"></div>
<div class="t" style="left:88px;top:511.96px;font-size:5.6px;line-height:7.28px;color:#333;">11</div>
<div class="t" style="left:126px;top:511.43px;font-size:5.5px;line-height:7.15px;color:#777;">10</div>
<div class="t" style="left:151.75px;top:511.36px;font-size:5.6px;line-height:7.28px;color:#666;"><span class="c" style="font-size:0.96em">美国黄金</span></div>
<div class="t" style="left:199px;top:511.36px;font-size:5.6px;line-height:7.28px;color:#666;"><span class="c" style="font-size:0.96em">开市</span></div>
<div class="t" style="left:306px;top:511.36px;font-size:5.6px;line-height:7.28px;color:#666;"><span class="c" style="font-size:0.96em">外汇</span></div>
<div class="t" style="left:380px;top:511.36px;font-size:5.6px;line-height:7.28px;color:#666;">1</div>
<div class="t" style="left:427.5px;top:511.36px;font-size:5.6px;line-height:7.28px;color:#666;">1</div>
<div class="b bs" style="left:476.5px;top:509.8px;width:24.5px;height:8.4px;background:#f4645b;border-radius:1.5px;font-size:5.0px;line-height:10.4px;color:#fff">启动状态</div>
<svg style="position:absolute;left:503px;top:509.80px" width="9" height="8.5" viewBox="0 0 9 8.5"><rect width="9" height="8.5" rx="1" fill="#3ec3b4"/><path d="M2.6 6.1 L6.2 2.5" stroke="#fff" stroke-width="1.4"/><path d="M2.2 6.6 L2.5 5.5 L3.3 6.3Z" fill="#fff"/></svg>
<svg style="position:absolute;left:514px;top:509.80px" width="8.6" height="8.5" viewBox="0 0 8.6 8.5"><rect width="8.6" height="8.5" rx="1" fill="#f4645b"/><rect x="2.3" y="2.2" width="4" height="0.8" fill="#fff"/><rect x="2.8" y="3.2" width="3" height="3.3" fill="#fff"/></svg>
<div style="left:81.5px;top:541.5200000000001px;width:466px;height:0.7px;background:#ececec;"></div>
<div style="left:86.2px;top:528.02px;width:21.2px;height:10px;border:0.9px solid;border-color:#c6c6c6 #d2d2d2 #b4b4b4 #9c9c9c;box-sizing:border-box;background:#fff"></div>
<div class="t" style="left:88px;top:530.78px;font-size:5.6px;line-height:7.28px;color:#333;">9</div>
<div class="t" style="left:126px;top:530.25px;font-size:5.5px;line-height:7.15px;color:#777;">38</div>
<div class="t" style="left:151.75px;top:530.18px;font-size:5.6px;line-height:7.28px;color:#666;"><span class="c" style="font-size:0.96em">比特币</span></div>
<div class="t" style="left:199px;top:530.18px;font-size:5.6px;line-height:7.28px;color:#666;"><span class="c" style="font-size:0.96em">开市</span></div>
<div class="t" style="left:306px;top:530.18px;font-size:5.6px;line-height:7.28px;color:#666;"><span class="c" style="font-size:0.96em">外汇</span></div>
<div class="t" style="left:380px;top:530.18px;font-size:5.6px;line-height:7.28px;color:#666;">1</div>
<div class="t" style="left:427.5px;top:530.18px;font-size:5.6px;line-height:7.28px;color:#666;">1</div>
<div class="b bs" style="left:476.5px;top:528.62px;width:24.5px;height:8.4px;background:#f4645b;border-radius:1.5px;font-size:5.0px;line-height:10.4px;color:#fff">启动状态</div>
<svg style="position:absolute;left:503px;top:528.62px" width="9" height="8.5" viewBox="0 0 9 8.5"><rect width="9" height="8.5" rx="1" fill="#3ec3b4"/><path d="M2.6 6.1 L6.2 2.5" stroke="#fff" stroke-width="1.4"/><path d="M2.2 6.6 L2.5 5.5 L3.3 6.3Z" fill="#fff"/></svg>
<svg style="position:absolute;left:514px;top:528.62px" width="8.6" height="8.5" viewBox="0 0 8.6 8.5"><rect width="8.6" height="8.5" rx="1" fill="#f4645b"/><rect x="2.3" y="2.2" width="4" height="0.8" fill="#fff"/><rect x="2.8" y="3.2" width="3" height="3.3" fill="#fff"/></svg>
<div style="left:81.5px;top:542.24px;width:466px;height:18.82px;background:#f9f9f9;"></div>
<div style="left:81.5px;top:560.34px;width:466px;height:0.7px;background:#ececec;"></div>
<div style="left:86.2px;top:546.84px;width:21.2px;height:10px;border:0.9px solid;border-color:#c6c6c6 #d2d2d2 #b4b4b4 #9c9c9c;box-sizing:border-box;background:#fff"></div>
<div class="t" style="left:88px;top:549.60px;font-size:5.6px;line-height:7.28px;color:#333;">9</div>
<div class="t" style="left:126px;top:549.06px;font-size:5.5px;line-height:7.15px;color:#777;">22</div>
<div class="t" style="left:151.75px;top:549.00px;font-size:5.6px;line-height:7.28px;color:#666;"><span class="c" style="font-size:0.96em">沪深</span>300</div>
<div class="t" style="left:199px;top:549.00px;font-size:5.6px;line-height:7.28px;color:#666;"><span class="c" style="font-size:0.96em">开市</span></div>
<div class="t" style="left:306px;top:549.00px;font-size:5.6px;line-height:7.28px;color:#666;"><span class="c" style="font-size:0.96em">外汇</span></div>
<div class="t" style="left:380px;top:549.00px;font-size:5.6px;line-height:7.28px;color:#666;">1</div>
<div class="t" style="left:427.5px;top:549.00px;font-size:5.6px;line-height:7.28px;color:#666;">1</div>
<div class="b bs" style="left:476.5px;top:547.4399999999999px;width:24.5px;height:8.4px;background:#f4645b;border-radius:1.5px;font-size:5.0px;line-height:10.4px;color:#fff">启动状态</div>
<svg style="position:absolute;left:503px;top:547.44px" width="9" height="8.5" viewBox="0 0 9 8.5"><rect width="9" height="8.5" rx="1" fill="#3ec3b4"/><path d="M2.6 6.1 L6.2 2.5" stroke="#fff" stroke-width="1.4"/><path d="M2.2 6.6 L2.5 5.5 L3.3 6.3Z" fill="#fff"/></svg>
<svg style="position:absolute;left:514px;top:547.44px" width="8.6" height="8.5" viewBox="0 0 8.6 8.5"><rect width="8.6" height="8.5" rx="1" fill="#f4645b"/><rect x="2.3" y="2.2" width="4" height="0.8" fill="#fff"/><rect x="2.8" y="3.2" width="3" height="3.3" fill="#fff"/></svg>
<div style="left:81.5px;top:579.1600000000001px;width:466px;height:0.7px;background:#ececec;"></div>
<div style="left:86.2px;top:565.66px;width:21.2px;height:10px;border:0.9px solid;border-color:#c6c6c6 #d2d2d2 #b4b4b4 #9c9c9c;box-sizing:border-box;background:#fff"></div>
<div class="t" style="left:88px;top:568.42px;font-size:5.6px;line-height:7.28px;color:#333;">9</div>
<div class="t" style="left:126px;top:567.88px;font-size:5.5px;line-height:7.15px;color:#777;">29</div>
<div class="t" style="left:151.75px;top:567.82px;font-size:5.6px;line-height:7.28px;color:#666;"><span class="c" style="font-size:0.96em">莱特币</span></div>
<div class="t" style="left:199px;top:567.82px;font-size:5.6px;line-height:7.28px;color:#666;"><span class="c" style="font-size:0.96em">开市</span></div>
<div class="t" style="left:306px;top:567.82px;font-size:5.6px;line-height:7.28px;color:#666;"><span class="c" style="font-size:0.96em">外汇</span></div>
<div class="t" style="left:380px;top:567.82px;font-size:5.6px;line-height:7.28px;color:#666;">1</div>
<div class="t" style="left:427.5px;top:567.82px;font-size:5.6px;line-height:7.28px;color:#666;">1</div>
<div class="b bs" style="left:476.5px;top:566.26px;width:24.5px;height:8.4px;background:#f4645b;border-radius:1.5px;font-size:5.0px;line-height:10.4px;color:#fff">启动状态</div>
<svg style="position:absolute;left:503px;top:566.26px" width="9" height="8.5" viewBox="0 0 9 8.5"><rect width="9" height="8.5" rx="1" fill="#3ec3b4"/><path d="M2.6 6.1 L6.2 2.5" stroke="#fff" stroke-width="1.4"/><path d="M2.2 6.6 L2.5 5.5 L3.3 6.3Z" fill="#fff"/></svg>
<svg style="position:absolute;left:514px;top:566.26px" width="8.6" height="8.5" viewBox="0 0 8.6 8.5"><rect width="8.6" height="8.5" rx="1" fill="#f4645b"/><rect x="2.3" y="2.2" width="4" height="0.8" fill="#fff"/><rect x="2.8" y="3.2" width="3" height="3.3" fill="#fff"/></svg>
<div style="left:81.5px;top:579.88px;width:466px;height:18.82px;background:#f9f9f9;"></div>
<div style="left:81.5px;top:597.98px;width:466px;height:0.7px;background:#ececec;"></div>
<div style="left:86.2px;top:584.48px;width:21.2px;height:10px;border:0.9px solid;border-color:#c6c6c6 #d2d2d2 #b4b4b4 #9c9c9c;box-sizing:border-box;background:#fff"></div>
<div class="t" style="left:88px;top:587.24px;font-size:5.6px;line-height:7.28px;color:#333;">7</div>
<div class="t" style="left:126px;top:586.70px;font-size:5.5px;line-height:7.15px;color:#777;">31</div>
<div class="t" style="left:151.75px;top:586.64px;font-size:5.6px;line-height:7.28px;color:#666;"><span class="c" style="font-size:0.96em">以太币</span></div>
<div class="t" style="left:199px;top:586.64px;font-size:5.6px;line-height:7.28px;color:#666;"><span class="c" style="font-size:0.96em">开市</span></div>
<div class="t" style="left:306px;top:586.64px;font-size:5.6px;line-height:7.28px;color:#666;"><span class="c" style="font-size:0.96em">外汇</span></div>
<div class="t" style="left:380px;top:586.64px;font-size:5.6px;line-height:7.28px;color:#666;">1</div>
<div class="t" style="left:427.5px;top:586.64px;font-size:5.6px;line-height:7.28px;color:#666;">1</div>
<div class="b bs" style="left:476.5px;top:585.0799999999999px;width:24.5px;height:8.4px;background:#f4645b;border-radius:1.5px;font-size:5.0px;line-height:10.4px;color:#fff">启动状态</div>
<svg style="position:absolute;left:503px;top:585.08px" width="9" height="8.5" viewBox="0 0 9 8.5"><rect width="9" height="8.5" rx="1" fill="#3ec3b4"/><path d="M2.6 6.1 L6.2 2.5" stroke="#fff" stroke-width="1.4"/><path d="M2.2 6.6 L2.5 5.5 L3.3 6.3Z" fill="#fff"/></svg>
<svg style="position:absolute;left:514px;top:585.08px" width="8.6" height="8.5" viewBox="0 0 8.6 8.5"><rect width="8.6" height="8.5" rx="1" fill="#f4645b"/><rect x="2.3" y="2.2" width="4" height="0.8" fill="#fff"/><rect x="2.8" y="3.2" width="3" height="3.3" fill="#fff"/></svg>
<div style="left:81.5px;top:616.8000000000001px;width:466px;height:0.7px;background:#ececec;"></div>
<div style="left:86.2px;top:603.30px;width:21.2px;height:10px;border:0.9px solid;border-color:#c6c6c6 #d2d2d2 #b4b4b4 #9c9c9c;box-sizing:border-box;background:#fff"></div>
<div class="t" style="left:88px;top:606.06px;font-size:5.6px;line-height:7.28px;color:#333;">3</div>
<div class="t" style="left:126px;top:605.52px;font-size:5.5px;line-height:7.15px;color:#777;">24</div>
<div class="t" style="left:151.75px;top:605.46px;font-size:5.6px;line-height:7.28px;color:#666;"><span class="c" style="font-size:0.96em">黄金</span></div>
<div class="t" style="left:199px;top:605.46px;font-size:5.6px;line-height:7.28px;color:#666;"><span class="c" style="font-size:0.96em">开市</span></div>
<div class="t" style="left:306px;top:605.46px;font-size:5.6px;line-height:7.28px;color:#666;"><span class="c" style="font-size:0.96em">外汇</span></div>
<div class="t" style="left:380px;top:605.46px;font-size:5.6px;line-height:7.28px;color:#666;">1</div>
<div class="t" style="left:427.5px;top:605.46px;font-size:5.6px;line-height:7.28px;color:#666;">1</div>
<div class="b bs" style="left:476.5px;top:603.9px;width:24.5px;height:8.4px;background:#f4645b;border-radius:1.5px;font-size:5.0px;line-height:10.4px;color:#fff">启动状态</div>
<svg style="position:absolute;left:503px;top:603.90px" width="9" height="8.5" viewBox="0 0 9 8.5"><rect width="9" height="8.5" rx="1" fill="#3ec3b4"/><path d="M2.6 6.1 L6.2 2.5" stroke="#fff" stroke-width="1.4"/><path d="M2.2 6.6 L2.5 5.5 L3.3 6.3Z" fill="#fff"/></svg>
<svg style="position:absolute;left:514px;top:603.90px" width="8.6" height="8.5" viewBox="0 0 8.6 8.5"><rect width="8.6" height="8.5" rx="1" fill="#f4645b"/><rect x="2.3" y="2.2" width="4" height="0.8" fill="#fff"/><rect x="2.8" y="3.2" width="3" height="3.3" fill="#fff"/></svg>
<div style="left:81.5px;top:617.52px;width:466px;height:18.82px;background:#f9f9f9;"></div>
<div style="left:81.5px;top:635.62px;width:466px;height:0.7px;background:#ececec;"></div>
<div style="left:86.2px;top:622.12px;width:21.2px;height:10px;border:0.9px solid;border-color:#c6c6c6 #d2d2d2 #b4b4b4 #9c9c9c;box-sizing:border-box;background:#fff"></div>
<div class="t" style="left:88px;top:624.88px;font-size:5.6px;line-height:7.28px;color:#333;">2</div>
<div class="t" style="left:126px;top:624.34px;font-size:5.5px;line-height:7.15px;color:#777;">23</div>
<div class="t" style="left:151.75px;top:624.28px;font-size:5.6px;line-height:7.28px;color:#666;"><span class="c" style="font-size:0.96em">白银</span></div>
<div class="t" style="left:199px;top:624.28px;font-size:5.6px;line-height:7.28px;color:#666;"><span class="c" style="font-size:0.96em">开市</span></div>
<div class="t" style="left:306px;top:624.28px;font-size:5.6px;line-height:7.28px;color:#666;"><span class="c" style="font-size:0.96em">外汇</span></div>
<div class="t" style="left:380px;top:624.28px;font-size:5.6px;line-height:7.28px;color:#666;">1</div>
<div class="t" style="left:427.5px;top:624.28px;font-size:5.6px;line-height:7.28px;color:#666;">1</div>
<div class="b bs" style="left:476.5px;top:622.7199999999999px;width:24.5px;height:8.4px;background:#f4645b;border-radius:1.5px;font-size:5.0px;line-height:10.4px;color:#fff">启动状态</div>
<svg style="position:absolute;left:503px;top:622.72px" width="9" height="8.5" viewBox="0 0 9 8.5"><rect width="9" height="8.5" rx="1" fill="#3ec3b4"/><path d="M2.6 6.1 L6.2 2.5" stroke="#fff" stroke-width="1.4"/><path d="M2.2 6.6 L2.5 5.5 L3.3 6.3Z" fill="#fff"/></svg>
<svg style="position:absolute;left:514px;top:622.72px" width="8.6" height="8.5" viewBox="0 0 8.6 8.5"><rect width="8.6" height="8.5" rx="1" fill="#f4645b"/><rect x="2.3" y="2.2" width="4" height="0.8" fill="#fff"/><rect x="2.8" y="3.2" width="3" height="3.3" fill="#fff"/></svg>
<div style="left:81.5px;top:654.44px;width:466px;height:0.7px;background:#ececec;"></div>
<div style="left:86.2px;top:640.94px;width:21.2px;height:10px;border:0.9px solid;border-color:#c6c6c6 #d2d2d2 #b4b4b4 #9c9c9c;box-sizing:border-box;background:#fff"></div>
<div class="t" style="left:88px;top:643.70px;font-size:5.6px;line-height:7.28px;color:#333;">0</div>
<div class="t" style="left:126px;top:643.16px;font-size:5.5px;line-height:7.15px;color:#777;">12</div>
<div class="t" style="left:151.75px;top:643.10px;font-size:5.6px;line-height:7.28px;color:#666;">SAUSD</div>
<div class="t" style="left:199px;top:643.10px;font-size:5.6px;line-height:7.28px;color:#666;"><span class="c" style="font-size:0.96em">开市</span></div>
<div class="t" style="left:306px;top:643.10px;font-size:5.6px;line-height:7.28px;color:#666;"><span class="c" style="font-size:0.96em">外汇</span></div>
<div class="t" style="left:380px;top:643.10px;font-size:5.6px;line-height:7.28px;color:#666;">1</div>
<div class="t" style="left:427.5px;top:643.10px;font-size:5.6px;line-height:7.28px;color:#666;">1</div>
<div class="b bs" style="left:476.5px;top:641.54px;width:24.5px;height:8.4px;background:#f4645b;border-radius:1.5px;font-size:5.0px;line-height:10.4px;color:#fff">启动状态</div>
<svg style="position:absolute;left:503px;top:641.54px" width="9" height="8.5" viewBox="0 0 9 8.5"><rect width="9" height="8.5" rx="1" fill="#3ec3b4"/><path d="M2.6 6.1 L6.2 2.5" stroke="#fff" stroke-width="1.4"/><path d="M2.2 6.6 L2.5 5.5 L3.3 6.3Z" fill="#fff"/></svg>
<svg style="position:absolute;left:514px;top:641.54px" width="8.6" height="8.5" viewBox="0 0 8.6 8.5"><rect width="8.6" height="8.5" rx="1" fill="#f4645b"/><rect x="2.3" y="2.2" width="4" height="0.8" fill="#fff"/><rect x="2.8" y="3.2" width="3" height="3.3" fill="#fff"/></svg>
<div style="left:81.5px;top:655.1600000000001px;width:466px;height:18.82px;background:#f3f3f3;"></div>
<div style="left:81.5px;top:673.2600000000001px;width:466px;height:0.7px;background:#ececec;"></div>
<div style="left:86.2px;top:659.76px;width:21.2px;height:10px;border:0.9px solid;border-color:#c6c6c6 #d2d2d2 #b4b4b4 #9c9c9c;box-sizing:border-box;background:#fff"></div>
<div class="t" style="left:88px;top:662.52px;font-size:5.6px;line-height:7.28px;color:#333;">0</div>
<div class="t" style="left:126px;top:661.99px;font-size:5.5px;line-height:7.15px;color:#777;">13</div>
<div class="t" style="left:151.75px;top:661.92px;font-size:5.6px;line-height:7.28px;color:#666;">SNZDUSD</div>
<div class="t" style="left:199px;top:661.92px;font-size:5.6px;line-height:7.28px;color:#666;"><span class="c" style="font-size:0.96em">开市</span></div>
<div class="t" style="left:306px;top:661.92px;font-size:5.6px;line-height:7.28px;color:#666;"><span class="c" style="font-size:0.96em">外汇</span></div>
<div class="t" style="left:380px;top:661.92px;font-size:5.6px;line-height:7.28px;color:#666;">1</div>
<div class="t" style="left:427.5px;top:661.92px;font-size:5.6px;line-height:7.28px;color:#666;">1</div>
<div class="b bs" style="left:476.5px;top:660.36px;width:24.5px;height:8.4px;background:#f4645b;border-radius:1.5px;font-size:5.0px;line-height:10.4px;color:#fff">启动状态</div>
<svg style="position:absolute;left:503px;top:660.36px" width="9" height="8.5" viewBox="0 0 9 8.5"><rect width="9" height="8.5" rx="1" fill="#3ec3b4"/><path d="M2.6 6.1 L6.2 2.5" stroke="#fff" stroke-width="1.4"/><path d="M2.2 6.6 L2.5 5.5 L3.3 6.3Z" fill="#fff"/></svg>
<svg style="position:absolute;left:514px;top:660.36px" width="8.6" height="8.5" viewBox="0 0 8.6 8.5"><rect width="8.6" height="8.5" rx="1" fill="#f4645b"/><rect x="2.3" y="2.2" width="4" height="0.8" fill="#fff"/><rect x="2.8" y="3.2" width="3" height="3.3" fill="#fff"/></svg>
<div style="left:81.5px;top:692.08px;width:466px;height:0.7px;background:#ececec;"></div>
<div style="left:86.2px;top:678.58px;width:21.2px;height:10px;border:0.9px solid;border-color:#c6c6c6 #d2d2d2 #b4b4b4 #9c9c9c;box-sizing:border-box;background:#fff"></div>
<div class="t" style="left:88px;top:681.34px;font-size:5.6px;line-height:7.28px;color:#333;">0</div>
<div class="t" style="left:126px;top:680.80px;font-size:5.5px;line-height:7.15px;color:#777;">16</div>
<div class="t" style="left:151.75px;top:680.74px;font-size:5.6px;line-height:7.28px;color:#666;">URUSD</div>
<div class="t" style="left:199px;top:680.74px;font-size:5.6px;line-height:7.28px;color:#666;"><span class="c" style="font-size:0.96em">开市</span></div>
<div class="t" style="left:306px;top:680.74px;font-size:5.6px;line-height:7.28px;color:#666;"><span class="c" style="font-size:0.96em">外汇</span></div>
<div class="t" style="left:380px;top:680.74px;font-size:5.6px;line-height:7.28px;color:#666;">1</div>
<div class="t" style="left:427.5px;top:680.74px;font-size:5.6px;line-height:7.28px;color:#666;">1</div>
<div class="b bs" style="left:476.5px;top:679.18px;width:24.5px;height:8.4px;background:#f4645b;border-radius:1.5px;font-size:5.0px;line-height:10.4px;color:#fff">启动状态</div>
<svg style="position:absolute;left:503px;top:679.18px" width="9" height="8.5" viewBox="0 0 9 8.5"><rect width="9" height="8.5" rx="1" fill="#3ec3b4"/><path d="M2.6 6.1 L6.2 2.5" stroke="#fff" stroke-width="1.4"/><path d="M2.2 6.6 L2.5 5.5 L3.3 6.3Z" fill="#fff"/></svg>
<svg style="position:absolute;left:514px;top:679.18px" width="8.6" height="8.5" viewBox="0 0 8.6 8.5"><rect width="8.6" height="8.5" rx="1" fill="#f4645b"/><rect x="2.3" y="2.2" width="4" height="0.8" fill="#fff"/><rect x="2.8" y="3.2" width="3" height="3.3" fill="#fff"/></svg>
<div style="left:81.5px;top:692.8px;width:466px;height:18.82px;background:#f9f9f9;"></div>
<div style="left:81.5px;top:710.9px;width:466px;height:0.7px;background:#ececec;"></div>
<div style="left:86.2px;top:697.40px;width:21.2px;height:10px;border:0.9px solid;border-color:#c6c6c6 #d2d2d2 #b4b4b4 #9c9c9c;box-sizing:border-box;background:#fff"></div>
<div class="t" style="left:88px;top:700.16px;font-size:5.6px;line-height:7.28px;color:#333;">0</div>
<div class="t" style="left:126px;top:699.62px;font-size:5.5px;line-height:7.15px;color:#777;">17</div>
<div class="t" style="left:151.75px;top:699.56px;font-size:5.6px;line-height:7.28px;color:#666;">USDJPY</div>
<div class="t" style="left:199px;top:699.56px;font-size:5.6px;line-height:7.28px;color:#666;"><span class="c" style="font-size:0.96em">开市</span></div>
<div class="t" style="left:306px;top:699.56px;font-size:5.6px;line-height:7.28px;color:#666;"><span class="c" style="font-size:0.96em">外汇</span></div>
<div class="t" style="left:380px;top:699.56px;font-size:5.6px;line-height:7.28px;color:#666;">1</div>
<div class="t" style="left:427.5px;top:699.56px;font-size:5.6px;line-height:7.28px;color:#666;">1</div>
<div class="b bs" style="left:476.5px;top:697.9999999999999px;width:24.5px;height:8.4px;background:#f4645b;border-radius:1.5px;font-size:5.0px;line-height:10.4px;color:#fff">启动状态</div>
<svg style="position:absolute;left:503px;top:698.00px" width="9" height="8.5" viewBox="0 0 9 8.5"><rect width="9" height="8.5" rx="1" fill="#3ec3b4"/><path d="M2.6 6.1 L6.2 2.5" stroke="#fff" stroke-width="1.4"/><path d="M2.2 6.6 L2.5 5.5 L3.3 6.3Z" fill="#fff"/></svg>
<svg style="position:absolute;left:514px;top:698.00px" width="8.6" height="8.5" viewBox="0 0 8.6 8.5"><rect width="8.6" height="8.5" rx="1" fill="#f4645b"/><rect x="2.3" y="2.2" width="4" height="0.8" fill="#fff"/><rect x="2.8" y="3.2" width="3" height="3.3" fill="#fff"/></svg>
<div style="left:81.5px;top:729.72px;width:466px;height:0.7px;background:#ececec;"></div>
<div style="left:86.2px;top:716.22px;width:21.2px;height:10px;border:0.9px solid;border-color:#c6c6c6 #d2d2d2 #b4b4b4 #9c9c9c;box-sizing:border-box;background:#fff"></div>
<div class="t" style="left:88px;top:718.98px;font-size:5.6px;line-height:7.28px;color:#333;">0</div>
<div class="t" style="left:126px;top:718.44px;font-size:5.5px;line-height:7.15px;color:#777;">32</div>
<div class="t" style="left:151.75px;top:718.38px;font-size:5.6px;line-height:7.28px;color:#666;"><span class="c" style="font-size:0.96em">英镑</span>/<span class="c" style="font-size:0.96em">美元</span></div>
<div class="t" style="left:199px;top:718.38px;font-size:5.6px;line-height:7.28px;color:#666;"><span class="c" style="font-size:0.96em">开市</span></div>
<div class="t" style="left:306px;top:718.38px;font-size:5.6px;line-height:7.28px;color:#666;"><span class="c" style="font-size:0.96em">外汇</span></div>
<div class="t" style="left:380px;top:718.38px;font-size:5.6px;line-height:7.28px;color:#666;">1</div>
<div class="t" style="left:427.5px;top:718.38px;font-size:5.6px;line-height:7.28px;color:#666;">1</div>
<div class="b bs" style="left:476.5px;top:716.8199999999999px;width:24.5px;height:8.4px;background:#f4645b;border-radius:1.5px;font-size:5.0px;line-height:10.4px;color:#fff">启动状态</div>
<svg style="position:absolute;left:503px;top:716.82px" width="9" height="8.5" viewBox="0 0 9 8.5"><rect width="9" height="8.5" rx="1" fill="#3ec3b4"/><path d="M2.6 6.1 L6.2 2.5" stroke="#fff" stroke-width="1.4"/><path d="M2.2 6.6 L2.5 5.5 L3.3 6.3Z" fill="#fff"/></svg>
<svg style="position:absolute;left:514px;top:716.82px" width="8.6" height="8.5" viewBox="0 0 8.6 8.5"><rect width="8.6" height="8.5" rx="1" fill="#f4645b"/><rect x="2.3" y="2.2" width="4" height="0.8" fill="#fff"/><rect x="2.8" y="3.2" width="3" height="3.3" fill="#fff"/></svg>
<div style="left:81.5px;top:730.44px;width:466px;height:18.82px;background:#f9f9f9;"></div>
<div style="left:81.5px;top:748.5400000000001px;width:466px;height:0.7px;background:#ececec;"></div>
<div style="left:86.2px;top:735.04px;width:21.2px;height:10px;border:0.9px solid;border-color:#c6c6c6 #d2d2d2 #b4b4b4 #9c9c9c;box-sizing:border-box;background:#fff"></div>
<div class="t" style="left:88px;top:737.80px;font-size:5.6px;line-height:7.28px;color:#333;">0</div>
<div class="t" style="left:126px;top:737.26px;font-size:5.5px;line-height:7.15px;color:#777;">33</div>
<div class="t" style="left:151.75px;top:737.20px;font-size:5.6px;line-height:7.28px;color:#666;"><span class="c" style="font-size:0.96em">英镑</span>/<span class="c" style="font-size:0.96em">澳元</span></div>
<div class="t" style="left:199px;top:737.20px;font-size:5.6px;line-height:7.28px;color:#666;"><span class="c" style="font-size:0.96em">开市</span></div>
<div class="t" style="left:306px;top:737.20px;font-size:5.6px;line-height:7.28px;color:#666;"><span class="c" style="font-size:0.96em">外汇</span></div>
<div class="t" style="left:380px;top:737.20px;font-size:5.6px;line-height:7.28px;color:#666;">1</div>
<div class="t" style="left:427.5px;top:737.20px;font-size:5.6px;line-height:7.28px;color:#666;">1</div>
<div class="b bs" style="left:476.5px;top:735.64px;width:24.5px;height:8.4px;background:#f4645b;border-radius:1.5px;font-size:5.0px;line-height:10.4px;color:#fff">启动状态</div>
<svg style="position:absolute;left:503px;top:735.64px" width="9" height="8.5" viewBox="0 0 9 8.5"><rect width="9" height="8.5" rx="1" fill="#3ec3b4"/><path d="M2.6 6.1 L6.2 2.5" stroke="#fff" stroke-width="1.4"/><path d="M2.2 6.6 L2.5 5.5 L3.3 6.3Z" fill="#fff"/></svg>
<svg style="position:absolute;left:514px;top:735.64px" width="8.6" height="8.5" viewBox="0 0 8.6 8.5"><rect width="8.6" height="8.5" rx="1" fill="#f4645b"/><rect x="2.3" y="2.2" width="4" height="0.8" fill="#fff"/><rect x="2.8" y="3.2" width="3" height="3.3" fill="#fff"/></svg>
<div style="left:81.5px;top:767.36px;width:466px;height:0.7px;background:#ececec;"></div>
<div style="left:86.2px;top:753.86px;width:21.2px;height:10px;border:0.9px solid;border-color:#c6c6c6 #d2d2d2 #b4b4b4 #9c9c9c;box-sizing:border-box;background:#fff"></div>
<div class="t" style="left:88px;top:756.62px;font-size:5.6px;line-height:7.28px;color:#333;">0</div>
<div class="t" style="left:126px;top:756.08px;font-size:5.5px;line-height:7.15px;color:#777;">34</div>
<div class="t" style="left:151.75px;top:756.02px;font-size:5.6px;line-height:7.28px;color:#666;"><span class="c" style="font-size:0.96em">美元</span>/<span class="c" style="font-size:0.96em">日元</span></div>
<div class="t" style="left:199px;top:756.02px;font-size:5.6px;line-height:7.28px;color:#666;"><span class="c" style="font-size:0.96em">开市</span></div>
<div class="t" style="left:306px;top:756.02px;font-size:5.6px;line-height:7.28px;color:#666;"><span class="c" style="font-size:0.96em">外汇</span></div>
<div class="t" style="left:380px;top:756.02px;font-size:5.6px;line-height:7.28px;color:#666;">1</div>
<div class="t" style="left:427.5px;top:756.02px;font-size:5.6px;line-height:7.28px;color:#666;">1</div>
<div class="b bs" style="left:476.5px;top:754.4599999999999px;width:24.5px;height:8.4px;background:#f4645b;border-radius:1.5px;font-size:5.0px;line-height:10.4px;color:#fff">启动状态</div>
<svg style="position:absolute;left:503px;top:754.46px" width="9" height="8.5" viewBox="0 0 9 8.5"><rect width="9" height="8.5" rx="1" fill="#3ec3b4"/><path d="M2.6 6.1 L6.2 2.5" stroke="#fff" stroke-width="1.4"/><path d="M2.2 6.6 L2.5 5.5 L3.3 6.3Z" fill="#fff"/></svg>
<svg style="position:absolute;left:514px;top:754.46px" width="8.6" height="8.5" viewBox="0 0 8.6 8.5"><rect width="8.6" height="8.5" rx="1" fill="#f4645b"/><rect x="2.3" y="2.2" width="4" height="0.8" fill="#fff"/><rect x="2.8" y="3.2" width="3" height="3.3" fill="#fff"/></svg>
<div class="b" style="left:82px;top:775px;width:22px;height:14.5px;background:#3ec3b4;border-radius:1.5px;font-size:6px;line-height:16.5px;color:#fff">排序</div>
<div style="left:680px;top:744px;width:96px;height:35px;background:#1272a0;"></div>
<div class="t" style="left:680.00px;top:752.69px;width:95px;text-align:center;font-size:5.4px;line-height:7.02px;color:#fff;-webkit-text-stroke:0.1px #fff">您有新的充值未处理，请及时查看</div>
<div class="t" style="left:680.50px;top:765.12px;width:95px;text-align:center;font-size:5.2px;line-height:6.76px;color:#fff;-webkit-text-stroke:0.1px #fff">立即查看</div>
<div style="left:0px;top:799px;width:800px;height:59px;background:#fff;"></div>
<div style="left:0px;top:833px;width:800px;height:25px;background:#fff;"></div>
<div style="left:7px;top:842.9px;width:7px;height:1.3px;background:#858585;"></div>
<div style="left:7px;top:845.1999999999999px;width:7px;height:1.3px;background:#858585;"></div>
<div style="left:7px;top:847.5px;width:7px;height:1.3px;background:#858585;"></div>
<div class="t" style="left:21px;top:842.11px;font-size:8.6px;line-height:11.18px;color:#f4574d;">系统</div>
<div style="left:766.5px;top:836.3px;width:28px;height:14px;border:1px solid #f0f0f0;box-sizing:border-box;background:#fff"></div>
<div class="t" style="left:769.5px;top:840.92px;font-size:5.2px;line-height:6.76px;color:#666;">admin</div>
<div class="t" style="left:788.5px;top:842.00px;font-size:4px;line-height:5.20px;color:#888;">▾</div>
<div style="left:1px;top:858.9px;width:75px;height:551.1px;background:#2a3443;"></div>
<div style="left:75px;top:858.9px;width:1px;height:551.1px;background:#222b38;"></div>
<div style="left:5.3px;top:934px;width:66.9px;height:106.59999999999991px;background:#343e4c;"></div>
<svg style="position:absolute;left:8.8px;top:872.40px" width="7" height="6" viewBox="0 0 7 6"><path d="M0.2 5.8 C0.2 -1.0 6.8 -1.0 6.8 5.8 Z" fill="#c3c7cd"/><path d="M3.5 5.6 L5 2.4" stroke="#2a3443" stroke-width="0.9"/><path d="M2.3 5.6 L4.7 5.6" stroke="#2a3443" stroke-width="0.8"/></svg>
<div class="t" style="left:19.75px;top:872.38px;font-size:5.1px;line-height:6.63px;color:#aeb3bb;">后台首页</div>
<svg style="position:absolute;left:9.2px;top:895.60px" width="5" height="6.8" viewBox="0 0 5 6.8"><path d="M0.6 0.5 H2.6 C4.6 0.5 4.6 3.2 2.8 3.3 C5 3.4 5 6.3 2.6 6.3 H0.6 Z" fill="#c3c7cd"/><path d="M1.9 1.6 V5.2" stroke="#2a3443" stroke-width="0.7"/></svg>
<div class="t" style="left:17.75px;top:895.78px;font-size:5.1px;line-height:6.63px;color:#aeb3bb;">产品管理</div>
<svg style="position:absolute;left:65.3px;top:896.70px" width="4" height="4.6" viewBox="0 0 4 4.6"><polygon points="0.5,0.6 3.1,2.3 0.5,4.0" fill="#e8eaee"/></svg>
<div style="left:9px;top:918.3px;width:4.2px;height:6.2px;background:#c3c7cd"></div>
<div style="left:11.6px;top:919.9px;width:4px;height:4.8px;border:1px solid #c3c7cd;box-sizing:border-box;border-radius:0 1.5px 1.5px 0;background:#2a3443"></div>
<div class="t" style="left:19.75px;top:918.28px;font-size:5.1px;line-height:6.63px;color:#aeb3bb;">订单管理</div>
<svg style="position:absolute;left:65.3px;top:919.20px" width="4" height="4.6" viewBox="0 0 4 4.6"><polygon points="0.5,0.6 3.1,2.3 0.5,4.0" fill="#e8eaee"/></svg>
<svg style="position:absolute;left:8.8px;top:940.90px" width="6.4" height="6.6" viewBox="0 0 6.4 6.6"><circle cx="3.2" cy="1.9" r="1.75" fill="#f0584e"/><path d="M0 6.6 C0 4.2 1.2 3.3 3.2 3.3 C5.2 3.3 6.4 4.2 6.4 6.6 Z" fill="#f0584e"/></svg>
<div class="t" style="left:18px;top:941.08px;font-size:5.1px;line-height:6.63px;color:#fff;font-weight:bold">用户管理</div>
<svg style="position:absolute;left:65.3px;top:942.00px" width="4" height="4.6" viewBox="0 0 4 4.6"><polygon points="0.5,0.6 3.1,2.3 0.5,4.0" fill="#e8eaee"/></svg>
<div class="t" style="left:9px;top:1049.8px;font-size:6.5px;line-height:8px;color:#c3c7cd;font-weight:bold">¥</div>
<div class="t" style="left:17px;top:1050.58px;font-size:5.1px;line-height:6.63px;color:#aeb3bb;">报表管理</div>
<svg style="position:absolute;left:65.3px;top:1051.50px" width="4" height="4.6" viewBox="0 0 4 4.6"><polygon points="0.5,0.6 3.1,2.3 0.5,4.0" fill="#e8eaee"/></svg>
<div style="left:9px;top:1073.8px;width:4.2px;height:6.2px;background:#c3c7cd"></div>
<div style="left:11.6px;top:1075.4px;width:4px;height:4.8px;border:1px solid #c3c7cd;box-sizing:border-box;border-radius:0 1.5px 1.5px 0;background:#2a3443"></div>
<div class="t" style="left:19.75px;top:1073.78px;font-size:5.1px;line-height:6.63px;color:#aeb3bb;">参数设置</div>
<svg style="position:absolute;left:65.3px;top:1074.70px" width="4" height="4.6" viewBox="0 0 4 4.6"><polygon points="0.5,0.6 3.1,2.3 0.5,4.0" fill="#e8eaee"/></svg>
<div style="left:9px;top:1098px;width:4.2px;height:4.2px;border:1.2px solid #c3c7cd;border-radius:50%;box-sizing:border-box"></div>
<div style="left:13.2px;top:1096.8px;width:2.6px;height:2.6px;background:#c3c7cd;border-radius:50%"></div>
<div style="left:13.2px;top:1100.8px;width:2.6px;height:2.6px;background:#c3c7cd;border-radius:50%"></div>
<div class="t" style="left:20.2px;top:1096.78px;font-size:5.1px;line-height:6.63px;color:#aeb3bb;">系统设置</div>
<svg style="position:absolute;left:65.3px;top:1097.70px" width="4" height="4.6" viewBox="0 0 4 4.6"><polygon points="0.5,0.6 3.1,2.3 0.5,4.0" fill="#e8eaee"/></svg>
<div style="left:8.8px;top:1120.3px;width:1.2px;height:4.4px;background:#c3c7cd"></div>
<div style="left:11px;top:1121.7px;width:2px;height:1.6px;background:#c3c7cd"></div>
<div style="left:12.8px;top:1120.3px;width:0;height:0;border-top:2.2px solid transparent;border-bottom:2.2px solid transparent;border-left:2.4px solid #c3c7cd"></div>
<div class="t" style="left:18.9px;top:1119.28px;font-size:5.1px;line-height:6.63px;color:#aeb3bb;">退出</div>
<div class="t" style="left:18.7px;top:958.18px;font-size:5.1px;line-height:6.63px;color:#f0584e;font-weight:bold">客户列表</div>
<div class="t" style="left:18.7px;top:972.58px;font-size:5.1px;line-height:6.63px;color:#80868f;">我的团队</div>
<div class="t" style="left:18.7px;top:987.18px;font-size:5.1px;line-height:6.63px;color:#80868f;">充值列表</div>
<div class="t" style="left:18.7px;top:1001.58px;font-size:5.1px;line-height:6.63px;color:#80868f;">提现列表</div>
<div class="t" style="left:18.7px;top:1016.08px;font-size:5.1px;line-height:6.63px;color:#80868f;">手动充值</div>
<div class="t" style="left:18.7px;top:1030.68px;font-size:5.1px;line-height:6.63px;color:#80868f;">登陆日志</div>
<div style="left:76px;top:858.9px;width:2px;height:551.1px;background:#fafafc;"></div>
<div style="left:78px;top:858.9px;width:722px;height:551.1px;background:#eff0f5;"></div>
<div style="left:197.25px;top:869.3px;width:108px;height:13.7px;background:#fff;border:0.5px solid #e6e6e6;box-sizing:border-box"></div>
<div style="left:197.25px;top:869.3px;width:21.5px;height:13.7px;background:#eeeeee;border:0.5px solid #e2e2e2;box-sizing:border-box"></div>
<div class="t" style="left:197.25px;top:873.31px;width:21.5px;text-align:center;font-size:5.9px;line-height:7.67px;color:#777;">类型</div>
<div class="t" style="left:225.75px;top:873.31px;font-size:5.9px;line-height:7.67px;color:#333;"><span class="c" style="font-size:0.96em">默认不选</span></div>
<svg style="position:absolute;left:299.5px;top:874.95px" width="3" height="2.4" viewBox="0 0 3 2.4"><polygon points="0,0 3,0 1.5,2.4" fill="#222"/></svg>
<div style="left:319.3px;top:869.8px;width:189.5px;height:13px;background:#fff;border:0.5px solid #e6e6e6;box-sizing:border-box"></div>
<div style="left:319.3px;top:869.8px;width:27.3px;height:13px;background:#eeeeee;border:0.5px solid #e2e2e2;box-sizing:border-box"></div>
<div class="t" style="left:319.30px;top:873.46px;width:27.3px;text-align:center;font-size:5.9px;line-height:7.67px;color:#777;">用户名</div>
<div class="t" style="left:350.6px;top:873.46px;font-size:5.9px;line-height:7.67px;color:#b5b5b5;"><span class="c" style="font-size:0.96em">昵称</span>/<span class="c" style="font-size:0.96em">姓名</span>/<span class="c" style="font-size:0.96em">手机号</span>/<span class="c" style="font-size:0.96em">编号</span></div>
<div class="b" style="left:516px;top:869.5px;width:21.5px;height:14px;background:#6cc24a;border-radius:1.5px;font-size:6px;line-height:16.0px;color:#fff">搜索</div>
<div class="b" style="left:82px;top:895px;width:34px;height:14px;background:#3ec3b4;border-radius:1.5px;font-size:6px;line-height:16.0px;color:#fff">所有用户</div>
<div class="b" style="left:124px;top:895px;width:34px;height:14px;background:#6cc24a;border-radius:1.5px;font-size:6px;line-height:16.0px;color:#fff">所有客户</div>
<div class="b" style="left:166.5px;top:895px;width:39.5px;height:14px;background:#6cc24a;border-radius:1.5px;font-size:6px;line-height:16.0px;color:#fff">所有代理商</div>
<div class="b" style="left:215px;top:895px;width:33.5px;height:14px;background:#6cc24a;border-radius:1.5px;font-size:6px;line-height:16.0px;color:#fff">今日客户</div>
<div class="b" style="left:256.5px;top:895px;width:40.0px;height:14px;background:#6cc24a;border-radius:1.5px;font-size:6px;line-height:16.0px;color:#fff">今日代理商</div>
<div class="b" style="left:304px;top:895px;width:38.5px;height:14px;background:#f4645b;border-radius:1.5px;font-size:6px;line-height:16.0px;color:#fff">添加客户+</div>
<div class="b" style="left:351.5px;top:895px;width:38.5px;height:14px;background:#f4645b;border-radius:1.5px;font-size:6px;line-height:16.0px;color:#fff">添加代理+</div>
<div style="left:81.5px;top:916.8px;width:705.2px;height:447.2px;background:#fff;"></div>
<div class="t" style="left:88.5px;top:921.71px;font-size:6.6px;line-height:8.58px;color:#999;">用户列表</div>
<div style="left:81.5px;top:934.6px;width:705.2px;height:0.7px;background:#f3f3f3;"></div>
<div style="left:81.5px;top:957.8px;width:705.2px;height:1px;background:#e2e2e2;"></div>
<div class="t" style="left:86px;top:940px;font-size:5.4px;line-height:7px;color:#4a4a4a"><span class="c" style="font-size:0.96em">用户</span><br>ID</div>
<div class="t" style="left:110.8px;top:947.36px;font-size:5.6px;line-height:7.28px;color:#4a4a4a;"><span class="c" style="font-size:0.96em">客户信息</span></div>
<div class="t" style="left:193.6px;top:947.36px;font-size:5.6px;line-height:7.28px;color:#4a4a4a;"><span class="c" style="font-size:0.96em">客户名称</span></div>
<div class="t" style="left:237px;top:947.36px;font-size:5.6px;line-height:7.28px;color:#4a4a4a;"><span class="c" style="font-size:0.96em">创建日期</span></div>
<div class="t" style="left:296px;top:947.36px;font-size:5.6px;line-height:7.28px;color:#4a4a4a;"><span class="c" style="font-size:0.96em">最近登录</span></div>
<div class="t" style="left:355px;top:940px;font-size:5.4px;line-height:7px;color:#4a4a4a"><span class="c" style="font-size:0.96em">订单</span><br><span class="c" style="font-size:0.96em">数</span></div>
<div class="t" style="left:378.5px;top:947.36px;font-size:5.6px;line-height:7.28px;color:#4a4a4a;"><span class="c" style="font-size:0.96em">账户余额</span></div>
<div class="t" style="left:420px;top:940px;font-size:5.4px;line-height:7px;color:#4a4a4a"><span class="c" style="font-size:0.96em">基金</span><br><span class="c" style="font-size:0.96em">宝</span></div>
<div class="t" style="left:444px;top:940px;font-size:5.4px;line-height:7px;color:#4a4a4a"><span class="c" style="font-size:0.96em">身</span><br><span class="c" style="font-size:0.96em">份</span></div>
<div class="t" style="left:461.5px;top:940px;font-size:5.4px;line-height:7px;color:#4a4a4a"><span class="c" style="font-size:0.96em">红</span><br><span class="c" style="font-size:0.96em">利</span></div>
<div class="t" style="left:480px;top:940px;font-size:5.4px;line-height:7px;color:#4a4a4a"><span class="c" style="font-size:0.96em">佣</span><br><span class="c" style="font-size:0.96em">金</span></div>
<div class="t" style="left:498.5px;top:947.36px;font-size:5.6px;line-height:7.28px;color:#4a4a4a;"><span class="c" style="font-size:0.96em">注册网址</span></div>
<div class="t" style="left:541.5px;top:940px;font-size:5.4px;line-height:7px;color:#4a4a4a"><span class="c" style="font-size:0.96em">归属代理</span><br><span class="c" style="font-size:0.96em">商</span></div>
<div class="t" style="left:575px;top:940px;font-size:5.4px;line-height:7px;color:#4a4a4a"><span class="c" style="font-size:0.96em">在线状</span><br><span class="c" style="font-size:0.96em">态</span></div>
<div class="t" style="left:603.5px;top:947.36px;font-size:5.6px;line-height:7.28px;color:#4a4a4a;"><span class="c" style="font-size:0.96em">操作</span></div>
<div style="left:81.5px;top:958.6px;width:705.2px;height:27px;background:#f9f9f9;"></div>
<div style="left:81.5px;top:984.9px;width:705.2px;height:0.7px;background:#ececec;"></div>
<div class="t" style="left:86px;top:969.46px;font-size:5.6px;line-height:7.28px;color:#666;">480</div>
<div class="t" style="left:110.8px;top:969.46px;font-size:5.6px;line-height:7.28px;color:#666;">10000480<span class="c" style="font-size:0.96em">【</span>18888888888<span class="c" style="font-size:0.96em">】</span></div>
<div class="t" style="left:193.6px;top:969.46px;font-size:5.6px;line-height:7.28px;color:#666;"><span class="c" style="font-size:0.96em">拜登源码</span></div>
<div class="t" style="left:237px;top:965.10px;font-size:5.5px;line-height:7px;color:#666">2020-11-21<br>11:50:44</div>
<div class="t" style="left:296px;top:965.10px;font-size:5.5px;line-height:7px;color:#666">2020-11-21<br>11:50:50</div>
<div class="t" style="left:355px;top:969.46px;font-size:5.6px;line-height:7.28px;color:#666;">0</div>
<div class="t" style="left:378.5px;top:969.52px;font-size:5.5px;line-height:7.15px;color:#f0303a;width:40px;overflow:hidden;white-space:nowrap">¥0.00</div>
<div class="t" style="left:420px;top:969.52px;font-size:5.5px;line-height:7.15px;color:#f0303a;">¥0.00</div>
<div class="t" style="left:444px;top:965.10px;font-size:5.2px;line-height:7px;color:#666">客<br>户</div>
<div class="t" style="left:461.5px;top:969.46px;font-size:5.6px;line-height:7.28px;color:#666;">0%</div>
<div class="t" style="left:480px;top:969.46px;font-size:5.6px;line-height:7.28px;color:#666;">0%</div>
<div class="t" style="left:541.5px;top:969.46px;font-size:5.6px;line-height:7.28px;color:#56688a;">admin</div>
<div class="t" style="left:575px;top:969.52px;font-size:5.5px;line-height:7.15px;color:#f03030;"><span class="c" style="font-size:0.96em">在线</span></div>
<div class="b bs" style="left:603.75px;top:963.1px;width:15.0px;height:8.5px;background:#f4645b;border-radius:1px;font-size:4.6px;line-height:10.5px;color:#fff">禁用</div>
<div class="b bs" style="left:620.5px;top:963.1px;width:24.0px;height:8.5px;background:#f4645b;border-radius:1px;font-size:4.6px;line-height:10.5px;color:#fff">禁止交易</div>
<div class="b bs" style="left:647px;top:963.1px;width:29.25px;height:8.5px;background:#6cc24a;border-radius:1px;font-size:4.6px;line-height:10.5px;color:#fff">成为代理商</div>
<div class="b bs" style="left:678.75px;top:963.1px;width:20.0px;height:8.5px;background:#f4645b;border-radius:1px;font-size:4.6px;line-height:10.5px;color:#fff">✎ 修改</div>
<div class="b bs" style="left:701.25px;top:963.1px;width:18.75px;height:8.5px;background:#f4645b;border-radius:1px;font-size:4.6px;line-height:10.5px;color:#fff">✎ 删除</div>
<div class="b bs" style="left:723px;top:963.1px;width:14.5px;height:8.5px;background:#3fc1b5;border-radius:1px;font-size:4.6px;line-height:10.5px;color:#fff">签约</div>
<div class="b bs" style="left:739.5px;top:963.1px;width:24.75px;height:8.5px;background:#3fc1b5;border-radius:1px;font-size:4.6px;line-height:10.5px;color:#fff">资金明细</div>
<div class="b bs" style="left:603.75px;top:973.1px;width:25px;height:8px;background:#f4645b;border-radius:1px;font-size:4.6px;line-height:10.0px;color:#fff">✎ 银行卡</div>
<div style="left:81.5px;top:1011.9px;width:705.2px;height:0.7px;background:#ececec;"></div>
<div class="t" style="left:86px;top:996.46px;font-size:5.6px;line-height:7.28px;color:#666;">479</div>
<div class="t" style="left:110.8px;top:996.46px;font-size:5.6px;line-height:7.28px;color:#666;">10000479<span class="c" style="font-size:0.96em">【</span>15283553708<span class="c" style="font-size:0.96em">】</span></div>
<div class="t" style="left:193.6px;top:996.46px;font-size:5.6px;line-height:7.28px;color:#666;"><span class="c" style="font-size:0.96em">刘跃富</span></div>
<div class="t" style="left:237px;top:992.10px;font-size:5.5px;line-height:7px;color:#666">2020-09-25<br>21:21:43</div>
<div class="t" style="left:296px;top:992.10px;font-size:5.5px;line-height:7px;color:#666">2020-09-25<br>21:21:43</div>
<div class="t" style="left:355px;top:996.46px;font-size:5.6px;line-height:7.28px;color:#666;">0</div>
<div class="t" style="left:378.5px;top:996.52px;font-size:5.5px;line-height:7.15px;color:#f0303a;width:40px;overflow:hidden;white-space:nowrap">¥0.00</div>
<div class="t" style="left:420px;top:996.52px;font-size:5.5px;line-height:7.15px;color:#f0303a;">¥0.00</div>
<div class="t" style="left:444px;top:992.10px;font-size:5.2px;line-height:7px;color:#666">客<br>户</div>
<div class="t" style="left:461.5px;top:996.46px;font-size:5.6px;line-height:7.28px;color:#666;">0%</div>
<div class="t" style="left:480px;top:996.46px;font-size:5.6px;line-height:7.28px;color:#666;">0%</div>
<div class="t" style="left:498.5px;top:996.52px;font-size:5.5px;line-height:7.15px;color:#777;">2211978.com</div>
<div class="t" style="left:575px;top:996.52px;font-size:5.5px;line-height:7.15px;color:#555;"><span class="c" style="font-size:0.96em">离线</span></div>
<div class="b bs" style="left:603.75px;top:990.1px;width:15.0px;height:8.5px;background:#f4645b;border-radius:1px;font-size:4.6px;line-height:10.5px;color:#fff">禁用</div>
<div class="b bs" style="left:620.5px;top:990.1px;width:24.0px;height:8.5px;background:#f4645b;border-radius:1px;font-size:4.6px;line-height:10.5px;color:#fff">禁止交易</div>
<div class="b bs" style="left:647px;top:990.1px;width:29.25px;height:8.5px;background:#6cc24a;border-radius:1px;font-size:4.6px;line-height:10.5px;color:#fff">成为代理商</div>
<div class="b bs" style="left:678.75px;top:990.1px;width:20.0px;height:8.5px;background:#f4645b;border-radius:1px;font-size:4.6px;line-height:10.5px;color:#fff">✎ 修改</div>
<div class="b bs" style="left:701.25px;top:990.1px;width:18.75px;height:8.5px;background:#f4645b;border-radius:1px;font-size:4.6px;line-height:10.5px;color:#fff">✎ 删除</div>
<div class="b bs" style="left:723px;top:990.1px;width:14.5px;height:8.5px;background:#3fc1b5;border-radius:1px;font-size:4.6px;line-height:10.5px;color:#fff">签约</div>
<div class="b bs" style="left:739.5px;top:990.1px;width:24.75px;height:8.5px;background:#3fc1b5;border-radius:1px;font-size:4.6px;line-height:10.5px;color:#fff">资金明细</div>
<div class="b bs" style="left:603.75px;top:1000.1px;width:25px;height:8px;background:#f4645b;border-radius:1px;font-size:4.6px;line-height:10.0px;color:#fff">✎ 银行卡</div>
<div style="left:81.5px;top:1012.6px;width:705.2px;height:27px;background:#f9f9f9;"></div>
<div style="left:81.5px;top:1038.9px;width:705.2px;height:0.7px;background:#ececec;"></div>
<div class="t" style="left:86px;top:1023.46px;font-size:5.6px;line-height:7.28px;color:#666;">478</div>
<div class="t" style="left:110.8px;top:1023.46px;font-size:5.6px;line-height:7.28px;color:#666;">10000478<span class="c" style="font-size:0.96em">【</span>13020181099<span class="c" style="font-size:0.96em">】</span></div>
<div class="t" style="left:193.6px;top:1023.46px;font-size:5.6px;line-height:7.28px;color:#666;">wufen</div>
<div class="t" style="left:237px;top:1019.10px;font-size:5.5px;line-height:7px;color:#666">2020-09-24<br>21:10:41</div>
<div class="t" style="left:296px;top:1019.10px;font-size:5.5px;line-height:7px;color:#666">2020-09-25<br>19:03:03</div>
<div class="t" style="left:355px;top:1023.46px;font-size:5.6px;line-height:7.28px;color:#666;">0</div>
<div class="t" style="left:378.5px;top:1023.52px;font-size:5.5px;line-height:7.15px;color:#f0303a;width:40px;overflow:hidden;white-space:nowrap">¥0.00</div>
<div class="t" style="left:420px;top:1023.52px;font-size:5.5px;line-height:7.15px;color:#f0303a;">¥0.00</div>
<div class="t" style="left:444px;top:1019.10px;font-size:5.2px;line-height:7px;color:#666">客<br>户</div>
<div class="t" style="left:461.5px;top:1023.46px;font-size:5.6px;line-height:7.28px;color:#666;">0%</div>
<div class="t" style="left:480px;top:1023.46px;font-size:5.6px;line-height:7.28px;color:#666;">0%</div>
<div class="t" style="left:498.5px;top:1023.52px;font-size:5.5px;line-height:7.15px;color:#777;">2211978.com</div>
<div class="t" style="left:575px;top:1023.52px;font-size:5.5px;line-height:7.15px;color:#555;"><span class="c" style="font-size:0.96em">离线</span></div>
<div class="b bs" style="left:603.75px;top:1017.0999999999999px;width:15.0px;height:8.5px;background:#f4645b;border-radius:1px;font-size:4.6px;line-height:10.5px;color:#fff">禁用</div>
<div class="b bs" style="left:620.5px;top:1017.0999999999999px;width:24.0px;height:8.5px;background:#f4645b;border-radius:1px;font-size:4.6px;line-height:10.5px;color:#fff">禁止交易</div>
<div class="b bs" style="left:647px;top:1017.0999999999999px;width:29.25px;height:8.5px;background:#6cc24a;border-radius:1px;font-size:4.6px;line-height:10.5px;color:#fff">成为代理商</div>
<div class="b bs" style="left:678.75px;top:1017.0999999999999px;width:20.0px;height:8.5px;background:#f4645b;border-radius:1px;font-size:4.6px;line-height:10.5px;color:#fff">✎ 修改</div>
<div class="b bs" style="left:701.25px;top:1017.0999999999999px;width:18.75px;height:8.5px;background:#f4645b;border-radius:1px;font-size:4.6px;line-height:10.5px;color:#fff">✎ 删除</div>
<div class="b bs" style="left:723px;top:1017.0999999999999px;width:14.5px;height:8.5px;background:#3fc1b5;border-radius:1px;font-size:4.6px;line-height:10.5px;color:#fff">签约</div>
<div class="b bs" style="left:739.5px;top:1017.0999999999999px;width:24.75px;height:8.5px;background:#3fc1b5;border-radius:1px;font-size:4.6px;line-height:10.5px;color:#fff">资金明细</div>
<div class="b bs" style="left:603.75px;top:1027.1px;width:25px;height:8px;background:#f4645b;border-radius:1px;font-size:4.6px;line-height:10.0px;color:#fff">✎ 银行卡</div>
<div style="left:81.5px;top:1065.8999999999999px;width:705.2px;height:0.7px;background:#ececec;"></div>
<div class="t" style="left:86px;top:1050.46px;font-size:5.6px;line-height:7.28px;color:#666;">477</div>
<div class="t" style="left:110.8px;top:1050.46px;font-size:5.6px;line-height:7.28px;color:#666;">10000477<span class="c" style="font-size:0.96em">【</span>085346598654<span class="c" style="font-size:0.96em">】</span></div>
<div class="t" style="left:193.6px;top:1050.46px;font-size:5.6px;line-height:7.28px;color:#666;"><span class="c" style="font-size:0.96em">庆华</span></div>
<div class="t" style="left:237px;top:1046.10px;font-size:5.5px;line-height:7px;color:#666">2020-09-24<br>15:58:43</div>
<div class="t" style="left:296px;top:1046.10px;font-size:5.5px;line-height:7px;color:#666">2020-09-26<br>20:09:18</div>
<div class="t" style="left:355px;top:1050.46px;font-size:5.6px;line-height:7.28px;color:#666;">2</div>
<div class="t" style="left:378.5px;top:1050.52px;font-size:5.5px;line-height:7.15px;color:#f0303a;width:40px;overflow:hidden;white-space:nowrap">¥78547.96</div>
<div class="t" style="left:420px;top:1050.52px;font-size:5.5px;line-height:7.15px;color:#f0303a;">¥0.00</div>
<div class="t" style="left:444px;top:1046.10px;font-size:5.2px;line-height:7px;color:#666">客<br>户</div>
<div class="t" style="left:461.5px;top:1050.46px;font-size:5.6px;line-height:7.28px;color:#666;">0%</div>
<div class="t" style="left:480px;top:1050.46px;font-size:5.6px;line-height:7.28px;color:#666;">0%</div>
<div class="t" style="left:498.5px;top:1050.52px;font-size:5.5px;line-height:7.15px;color:#777;">2211978.com</div>
<div class="t" style="left:575px;top:1050.52px;font-size:5.5px;line-height:7.15px;color:#555;"><span class="c" style="font-size:0.96em">离线</span></div>
<div class="b bs" style="left:603.75px;top:1044.1px;width:15.0px;height:8.5px;background:#f4645b;border-radius:1px;font-size:4.6px;line-height:10.5px;color:#fff">禁用</div>
<div class="b bs" style="left:620.5px;top:1044.1px;width:24.0px;height:8.5px;background:#f4645b;border-radius:1px;font-size:4.6px;line-height:10.5px;color:#fff">禁止交易</div>
<div class="b bs" style="left:647px;top:1044.1px;width:29.25px;height:8.5px;background:#6cc24a;border-radius:1px;font-size:4.6px;line-height:10.5px;color:#fff">成为代理商</div>
<div class="b bs" style="left:678.75px;top:1044.1px;width:20.0px;height:8.5px;background:#f4645b;border-radius:1px;font-size:4.6px;line-height:10.5px;color:#fff">✎ 修改</div>
<div class="b bs" style="left:701.25px;top:1044.1px;width:18.75px;height:8.5px;background:#f4645b;border-radius:1px;font-size:4.6px;line-height:10.5px;color:#fff">✎ 删除</div>
<div class="b bs" style="left:723px;top:1044.1px;width:14.5px;height:8.5px;background:#3fc1b5;border-radius:1px;font-size:4.6px;line-height:10.5px;color:#fff">签约</div>
<div class="b bs" style="left:739.5px;top:1044.1px;width:24.75px;height:8.5px;background:#3fc1b5;border-radius:1px;font-size:4.6px;line-height:10.5px;color:#fff">资金明细</div>
<div class="b bs" style="left:603.75px;top:1054.1px;width:25px;height:8px;background:#f4645b;border-radius:1px;font-size:4.6px;line-height:10.0px;color:#fff">✎ 银行卡</div>
<div style="left:81.5px;top:1066.6px;width:705.2px;height:27px;background:#f9f9f9;"></div>
<div style="left:81.5px;top:1092.8999999999999px;width:705.2px;height:0.7px;background:#ececec;"></div>
<div class="t" style="left:86px;top:1077.46px;font-size:5.6px;line-height:7.28px;color:#666;">476</div>
<div class="t" style="left:110.8px;top:1077.46px;font-size:5.6px;line-height:7.28px;color:#666;">10000476<span class="c" style="font-size:0.96em">【</span>15890133182<span class="c" style="font-size:0.96em">】</span></div>
<div class="t" style="left:193.6px;top:1077.46px;font-size:5.6px;line-height:7.28px;color:#666;"><span class="c" style="font-size:0.96em">张爽</span></div>
<div class="t" style="left:237px;top:1073.10px;font-size:5.5px;line-height:7px;color:#666">2020-09-24<br>15:53:36</div>
<div class="t" style="left:296px;top:1073.10px;font-size:5.5px;line-height:7px;color:#666">2020-09-26<br>19:02:48</div>
<div class="t" style="left:355px;top:1077.46px;font-size:5.6px;line-height:7.28px;color:#666;">2</div>
<div class="t" style="left:378.5px;top:1077.52px;font-size:5.5px;line-height:7.15px;color:#f0303a;width:40px;overflow:hidden;white-space:nowrap">¥1271.18</div>
<div class="t" style="left:420px;top:1077.52px;font-size:5.5px;line-height:7.15px;color:#f0303a;">¥0.00</div>
<div class="t" style="left:444px;top:1073.10px;font-size:5.2px;line-height:7px;color:#666">客<br>户</div>
<div class="t" style="left:461.5px;top:1077.46px;font-size:5.6px;line-height:7.28px;color:#666;">0%</div>
<div class="t" style="left:480px;top:1077.46px;font-size:5.6px;line-height:7.28px;color:#666;">0%</div>
<div class="t" style="left:498.5px;top:1077.52px;font-size:5.5px;line-height:7.15px;color:#777;">2211978.com</div>
<div class="t" style="left:575px;top:1077.52px;font-size:5.5px;line-height:7.15px;color:#555;"><span class="c" style="font-size:0.96em">离线</span></div>
<div class="b bs" style="left:603.75px;top:1071.1px;width:15.0px;height:8.5px;background:#f4645b;border-radius:1px;font-size:4.6px;line-height:10.5px;color:#fff">禁用</div>
<div class="b bs" style="left:620.5px;top:1071.1px;width:24.0px;height:8.5px;background:#f4645b;border-radius:1px;font-size:4.6px;line-height:10.5px;color:#fff">禁止交易</div>
<div class="b bs" style="left:647px;top:1071.1px;width:29.25px;height:8.5px;background:#6cc24a;border-radius:1px;font-size:4.6px;line-height:10.5px;color:#fff">成为代理商</div>
<div class="b bs" style="left:678.75px;top:1071.1px;width:20.0px;height:8.5px;background:#f4645b;border-radius:1px;font-size:4.6px;line-height:10.5px;color:#fff">✎ 修改</div>
<div class="b bs" style="left:701.25px;top:1071.1px;width:18.75px;height:8.5px;background:#f4645b;border-radius:1px;font-size:4.6px;line-height:10.5px;color:#fff">✎ 删除</div>
<div class="b bs" style="left:723px;top:1071.1px;width:14.5px;height:8.5px;background:#3fc1b5;border-radius:1px;font-size:4.6px;line-height:10.5px;color:#fff">签约</div>
<div class="b bs" style="left:739.5px;top:1071.1px;width:24.75px;height:8.5px;background:#3fc1b5;border-radius:1px;font-size:4.6px;line-height:10.5px;color:#fff">资金明细</div>
<div class="b bs" style="left:603.75px;top:1081.1px;width:25px;height:8px;background:#f4645b;border-radius:1px;font-size:4.6px;line-height:10.0px;color:#fff">✎ 银行卡</div>
<div style="left:81.5px;top:1119.8999999999999px;width:705.2px;height:0.7px;background:#ececec;"></div>
<div class="t" style="left:86px;top:1104.46px;font-size:5.6px;line-height:7.28px;color:#666;">475</div>
<div class="t" style="left:110.8px;top:1104.46px;font-size:5.6px;line-height:7.28px;color:#666;">10000475<span class="c" style="font-size:0.96em">【</span>1<span class="c" style="font-size:0.96em">】</span></div>
<div class="t" style="left:193.6px;top:1104.46px;font-size:5.6px;line-height:7.28px;color:#666;">wmj6463408</div>
<div class="t" style="left:237px;top:1100.10px;font-size:5.5px;line-height:7px;color:#666">2020-09-24<br>15:25:07</div>
<div class="t" style="left:296px;top:1100.10px;font-size:5.5px;line-height:7px;color:#666">2020-09-24<br>21:01:40</div>
<div class="t" style="left:355px;top:1104.46px;font-size:5.6px;line-height:7.28px;color:#666;">3</div>
<div class="t" style="left:378.5px;top:1104.52px;font-size:5.5px;line-height:7.15px;color:#f0303a;width:40px;overflow:hidden;white-space:nowrap">¥1543008.48</div>
<div class="t" style="left:420px;top:1104.52px;font-size:5.5px;line-height:7.15px;color:#f0303a;">¥0.00</div>
<div class="t" style="left:444px;top:1100.10px;font-size:5.2px;line-height:7px;color:#666">客<br>户</div>
<div class="t" style="left:461.5px;top:1104.46px;font-size:5.6px;line-height:7.28px;color:#666;">0%</div>
<div class="t" style="left:480px;top:1104.46px;font-size:5.6px;line-height:7.28px;color:#666;">0%</div>
<div class="t" style="left:498.5px;top:1104.52px;font-size:5.5px;line-height:7.15px;color:#777;">2211978.com</div>
<div class="t" style="left:575px;top:1104.52px;font-size:5.5px;line-height:7.15px;color:#555;"><span class="c" style="font-size:0.96em">离线</span></div>
<div class="b bs" style="left:603.75px;top:1098.1px;width:15.0px;height:8.5px;background:#f4645b;border-radius:1px;font-size:4.6px;line-height:10.5px;color:#fff">禁用</div>
<div class="b bs" style="left:620.5px;top:1098.1px;width:24.0px;height:8.5px;background:#f4645b;border-radius:1px;font-size:4.6px;line-height:10.5px;color:#fff">禁止交易</div>
<div class="b bs" style="left:647px;top:1098.1px;width:29.25px;height:8.5px;background:#6cc24a;border-radius:1px;font-size:4.6px;line-height:10.5px;color:#fff">成为代理商</div>
<div class="b bs" style="left:678.75px;top:1098.1px;width:20.0px;height:8.5px;background:#f4645b;border-radius:1px;font-size:4.6px;line-height:10.5px;color:#fff">✎ 修改</div>
<div class="b bs" style="left:701.25px;top:1098.1px;width:18.75px;height:8.5px;background:#f4645b;border-radius:1px;font-size:4.6px;line-height:10.5px;color:#fff">✎ 删除</div>
<div class="b bs" style="left:723px;top:1098.1px;width:14.5px;height:8.5px;background:#3fc1b5;border-radius:1px;font-size:4.6px;line-height:10.5px;color:#fff">签约</div>
<div class="b bs" style="left:739.5px;top:1098.1px;width:24.75px;height:8.5px;background:#3fc1b5;border-radius:1px;font-size:4.6px;line-height:10.5px;color:#fff">资金明细</div>
<div class="b bs" style="left:603.75px;top:1108.1px;width:25px;height:8px;background:#f4645b;border-radius:1px;font-size:4.6px;line-height:10.0px;color:#fff">✎ 银行卡</div>
<div style="left:81.5px;top:1120.6px;width:705.2px;height:27px;background:#f9f9f9;"></div>
<div style="left:81.5px;top:1146.8999999999999px;width:705.2px;height:0.7px;background:#ececec;"></div>
<div class="t" style="left:86px;top:1131.46px;font-size:5.6px;line-height:7.28px;color:#666;">474</div>
<div class="t" style="left:110.8px;top:1131.46px;font-size:5.6px;line-height:7.28px;color:#666;">10000474<span class="c" style="font-size:0.96em">【</span>19907612468<span class="c" style="font-size:0.96em">】</span></div>
<div class="t" style="left:193.6px;top:1131.46px;font-size:5.6px;line-height:7.28px;color:#666;"><span class="c" style="font-size:0.96em">李阳</span></div>
<div class="t" style="left:237px;top:1127.10px;font-size:5.5px;line-height:7px;color:#666">2020-09-24<br>15:13:31</div>
<div class="t" style="left:296px;top:1127.10px;font-size:5.5px;line-height:7px;color:#666">2020-09-26<br>20:29:58</div>
<div class="t" style="left:355px;top:1131.46px;font-size:5.6px;line-height:7.28px;color:#666;">1</div>
<div class="t" style="left:378.5px;top:1131.52px;font-size:5.5px;line-height:7.15px;color:#f0303a;width:40px;overflow:hidden;white-space:nowrap">¥175516.20</div>
<div class="t" style="left:420px;top:1131.52px;font-size:5.5px;line-height:7.15px;color:#f0303a;">¥0.00</div>
<div class="t" style="left:444px;top:1127.10px;font-size:5.2px;line-height:7px;color:#666">客<br>户</div>
<div class="t" style="left:461.5px;top:1131.46px;font-size:5.6px;line-height:7.28px;color:#666;">0%</div>
<div class="t" style="left:480px;top:1131.46px;font-size:5.6px;line-height:7.28px;color:#666;">0%</div>
<div class="t" style="left:498.5px;top:1131.52px;font-size:5.5px;line-height:7.15px;color:#777;">2211978.com</div>
<div class="t" style="left:575px;top:1131.52px;font-size:5.5px;line-height:7.15px;color:#555;"><span class="c" style="font-size:0.96em">离线</span></div>
<div class="b bs" style="left:603.75px;top:1125.1px;width:15.0px;height:8.5px;background:#f4645b;border-radius:1px;font-size:4.6px;line-height:10.5px;color:#fff">禁用</div>
<div class="b bs" style="left:620.5px;top:1125.1px;width:24.0px;height:8.5px;background:#f4645b;border-radius:1px;font-size:4.6px;line-height:10.5px;color:#fff">禁止交易</div>
<div class="b bs" style="left:647px;top:1125.1px;width:29.25px;height:8.5px;background:#6cc24a;border-radius:1px;font-size:4.6px;line-height:10.5px;color:#fff">成为代理商</div>
<div class="b bs" style="left:678.75px;top:1125.1px;width:20.0px;height:8.5px;background:#f4645b;border-radius:1px;font-size:4.6px;line-height:10.5px;color:#fff">✎ 修改</div>
<div class="b bs" style="left:701.25px;top:1125.1px;width:18.75px;height:8.5px;background:#f4645b;border-radius:1px;font-size:4.6px;line-height:10.5px;color:#fff">✎ 删除</div>
<div class="b bs" style="left:723px;top:1125.1px;width:14.5px;height:8.5px;background:#3fc1b5;border-radius:1px;font-size:4.6px;line-height:10.5px;color:#fff">签约</div>
<div class="b bs" style="left:739.5px;top:1125.1px;width:24.75px;height:8.5px;background:#3fc1b5;border-radius:1px;font-size:4.6px;line-height:10.5px;color:#fff">资金明细</div>
<div class="b bs" style="left:603.75px;top:1135.1px;width:25px;height:8px;background:#f4645b;border-radius:1px;font-size:4.6px;line-height:10.0px;color:#fff">✎ 银行卡</div>
<div style="left:81.5px;top:1173.8999999999999px;width:705.2px;height:0.7px;background:#ececec;"></div>
<div class="t" style="left:86px;top:1158.46px;font-size:5.6px;line-height:7.28px;color:#666;">473</div>
<div class="t" style="left:110.8px;top:1158.46px;font-size:5.6px;line-height:7.28px;color:#666;">10000473<span class="c" style="font-size:0.96em">【</span>13007076637<span class="c" style="font-size:0.96em">】</span></div>
<div class="t" style="left:193.6px;top:1158.46px;font-size:5.6px;line-height:7.28px;color:#666;">13007076637</div>
<div class="t" style="left:237px;top:1154.10px;font-size:5.5px;line-height:7px;color:#666">2020-09-24<br>15:08:15</div>
<div class="t" style="left:296px;top:1154.10px;font-size:5.5px;line-height:7px;color:#666">2020-09-27<br>11:26:42</div>
<div class="t" style="left:355px;top:1158.46px;font-size:5.6px;line-height:7.28px;color:#666;">4</div>
<div class="t" style="left:378.5px;top:1158.52px;font-size:5.5px;line-height:7.15px;color:#f0303a;width:40px;overflow:hidden;white-space:nowrap">¥4710.85</div>
<div class="t" style="left:420px;top:1158.52px;font-size:5.5px;line-height:7.15px;color:#f0303a;">¥0.00</div>
<div class="t" style="left:444px;top:1154.10px;font-size:5.2px;line-height:7px;color:#666">客<br>户</div>
<div class="t" style="left:461.5px;top:1158.46px;font-size:5.6px;line-height:7.28px;color:#666;">0%</div>
<div class="t" style="left:480px;top:1158.46px;font-size:5.6px;line-height:7.28px;color:#666;">0%</div>
<div class="t" style="left:498.5px;top:1158.52px;font-size:5.5px;line-height:7.15px;color:#777;">2211978.com</div>
<div class="t" style="left:575px;top:1158.52px;font-size:5.5px;line-height:7.15px;color:#555;"><span class="c" style="font-size:0.96em">离线</span></div>
<div class="b bs" style="left:603.75px;top:1152.1px;width:15.0px;height:8.5px;background:#f4645b;border-radius:1px;font-size:4.6px;line-height:10.5px;color:#fff">禁用</div>
<div class="b bs" style="left:620.5px;top:1152.1px;width:24.0px;height:8.5px;background:#f4645b;border-radius:1px;font-size:4.6px;line-height:10.5px;color:#fff">禁止交易</div>
<div class="b bs" style="left:647px;top:1152.1px;width:29.25px;height:8.5px;background:#6cc24a;border-radius:1px;font-size:4.6px;line-height:10.5px;color:#fff">成为代理商</div>
<div class="b bs" style="left:678.75px;top:1152.1px;width:20.0px;height:8.5px;background:#f4645b;border-radius:1px;font-size:4.6px;line-height:10.5px;color:#fff">✎ 修改</div>
<div class="b bs" style="left:701.25px;top:1152.1px;width:18.75px;height:8.5px;background:#f4645b;border-radius:1px;font-size:4.6px;line-height:10.5px;color:#fff">✎ 删除</div>
<div class="b bs" style="left:723px;top:1152.1px;width:14.5px;height:8.5px;background:#3fc1b5;border-radius:1px;font-size:4.6px;line-height:10.5px;color:#fff">签约</div>
<div class="b bs" style="left:739.5px;top:1152.1px;width:24.75px;height:8.5px;background:#3fc1b5;border-radius:1px;font-size:4.6px;line-height:10.5px;color:#fff">资金明细</div>
<div class="b bs" style="left:603.75px;top:1162.1px;width:25px;height:8px;background:#f4645b;border-radius:1px;font-size:4.6px;line-height:10.0px;color:#fff">✎ 银行卡</div>
<div style="left:81.5px;top:1174.6px;width:705.2px;height:27px;background:#f9f9f9;"></div>
<div style="left:81.5px;top:1200.8999999999999px;width:705.2px;height:0.7px;background:#ececec;"></div>
<div class="t" style="left:86px;top:1185.46px;font-size:5.6px;line-height:7.28px;color:#666;">472</div>
<div class="t" style="left:110.8px;top:1185.46px;font-size:5.6px;line-height:7.28px;color:#666;">10000472<span class="c" style="font-size:0.96em">【</span>19376758899<span class="c" style="font-size:0.96em">】</span></div>
<div class="t" style="left:193.6px;top:1185.46px;font-size:5.6px;line-height:7.28px;color:#666;"><span class="c" style="font-size:0.96em">李明贺</span></div>
<div class="t" style="left:237px;top:1181.10px;font-size:5.5px;line-height:7px;color:#666">2020-09-24<br>14:59:28</div>
<div class="t" style="left:296px;top:1181.10px;font-size:5.5px;line-height:7px;color:#666">2020-09-26<br>19:01:27</div>
<div class="t" style="left:355px;top:1185.46px;font-size:5.6px;line-height:7.28px;color:#666;">2</div>
<div class="t" style="left:378.5px;top:1185.52px;font-size:5.5px;line-height:7.15px;color:#f0303a;width:40px;overflow:hidden;white-space:nowrap">¥620991.36</div>
<div class="t" style="left:420px;top:1185.52px;font-size:5.5px;line-height:7.15px;color:#f0303a;">¥0.00</div>
<div class="t" style="left:444px;top:1181.10px;font-size:5.2px;line-height:7px;color:#666">客<br>户</div>
<div class="t" style="left:461.5px;top:1185.46px;font-size:5.6px;line-height:7.28px;color:#666;">0%</div>
<div class="t" style="left:480px;top:1185.46px;font-size:5.6px;line-height:7.28px;color:#666;">0%</div>
<div class="t" style="left:498.5px;top:1185.52px;font-size:5.5px;line-height:7.15px;color:#777;">2211978.com</div>
<div class="t" style="left:575px;top:1185.52px;font-size:5.5px;line-height:7.15px;color:#555;"><span class="c" style="font-size:0.96em">离线</span></div>
<div class="b bs" style="left:603.75px;top:1179.1px;width:15.0px;height:8.5px;background:#f4645b;border-radius:1px;font-size:4.6px;line-height:10.5px;color:#fff">禁用</div>
<div class="b bs" style="left:620.5px;top:1179.1px;width:24.0px;height:8.5px;background:#f4645b;border-radius:1px;font-size:4.6px;line-height:10.5px;color:#fff">禁止交易</div>
<div class="b bs" style="left:647px;top:1179.1px;width:29.25px;height:8.5px;background:#6cc24a;border-radius:1px;font-size:4.6px;line-height:10.5px;color:#fff">成为代理商</div>
<div class="b bs" style="left:678.75px;top:1179.1px;width:20.0px;height:8.5px;background:#f4645b;border-radius:1px;font-size:4.6px;line-height:10.5px;color:#fff">✎ 修改</div>
<div class="b bs" style="left:701.25px;top:1179.1px;width:18.75px;height:8.5px;background:#f4645b;border-radius:1px;font-size:4.6px;line-height:10.5px;color:#fff">✎ 删除</div>
<div class="b bs" style="left:723px;top:1179.1px;width:14.5px;height:8.5px;background:#3fc1b5;border-radius:1px;font-size:4.6px;line-height:10.5px;color:#fff">签约</div>
<div class="b bs" style="left:739.5px;top:1179.1px;width:24.75px;height:8.5px;background:#3fc1b5;border-radius:1px;font-size:4.6px;line-height:10.5px;color:#fff">资金明细</div>
<div class="b bs" style="left:603.75px;top:1189.1px;width:25px;height:8px;background:#f4645b;border-radius:1px;font-size:4.6px;line-height:10.0px;color:#fff">✎ 银行卡</div>
<div style="left:81.5px;top:1227.8999999999999px;width:705.2px;height:0.7px;background:#ececec;"></div>
<div class="t" style="left:86px;top:1212.46px;font-size:5.6px;line-height:7.28px;color:#666;">471</div>
<div class="t" style="left:110.8px;top:1212.46px;font-size:5.6px;line-height:7.28px;color:#666;">10000471<span class="c" style="font-size:0.96em">【余红梅】</span></div>
<div class="t" style="left:193.6px;top:1212.46px;font-size:5.6px;line-height:7.28px;color:#666;"><span class="c" style="font-size:0.96em">余红梅</span></div>
<div class="t" style="left:237px;top:1208.10px;font-size:5.5px;line-height:7px;color:#666">2020-09-24<br>12:34:25</div>
<div class="t" style="left:296px;top:1208.10px;font-size:5.5px;line-height:7px;color:#666">2020-09-27<br>12:03:52</div>
<div class="t" style="left:355px;top:1212.46px;font-size:5.6px;line-height:7.28px;color:#666;">5</div>
<div class="t" style="left:378.5px;top:1212.52px;font-size:5.5px;line-height:7.15px;color:#f0303a;width:40px;overflow:hidden;white-space:nowrap">¥301.03</div>
<div class="t" style="left:420px;top:1212.52px;font-size:5.5px;line-height:7.15px;color:#f0303a;">¥0.00</div>
<div class="t" style="left:444px;top:1208.10px;font-size:5.2px;line-height:7px;color:#666">客<br>户</div>
<div class="t" style="left:461.5px;top:1212.46px;font-size:5.6px;line-height:7.28px;color:#666;">0%</div>
<div class="t" style="left:480px;top:1212.46px;font-size:5.6px;line-height:7.28px;color:#666;">0%</div>
<div class="t" style="left:498.5px;top:1212.52px;font-size:5.5px;line-height:7.15px;color:#777;">2211978.com</div>
<div class="t" style="left:575px;top:1212.52px;font-size:5.5px;line-height:7.15px;color:#555;"><span class="c" style="font-size:0.96em">离线</span></div>
<div class="b bs" style="left:603.75px;top:1206.1px;width:15.0px;height:8.5px;background:#f4645b;border-radius:1px;font-size:4.6px;line-height:10.5px;color:#fff">禁用</div>
<div class="b bs" style="left:620.5px;top:1206.1px;width:24.0px;height:8.5px;background:#f4645b;border-radius:1px;font-size:4.6px;line-height:10.5px;color:#fff">禁止交易</div>
<div class="b bs" style="left:647px;top:1206.1px;width:29.25px;height:8.5px;background:#6cc24a;border-radius:1px;font-size:4.6px;line-height:10.5px;color:#fff">成为代理商</div>
<div class="b bs" style="left:678.75px;top:1206.1px;width:20.0px;height:8.5px;background:#f4645b;border-radius:1px;font-size:4.6px;line-height:10.5px;color:#fff">✎ 修改</div>
<div class="b bs" style="left:701.25px;top:1206.1px;width:18.75px;height:8.5px;background:#f4645b;border-radius:1px;font-size:4.6px;line-height:10.5px;color:#fff">✎ 删除</div>
<div class="b bs" style="left:723px;top:1206.1px;width:14.5px;height:8.5px;background:#3fc1b5;border-radius:1px;font-size:4.6px;line-height:10.5px;color:#fff">签约</div>
<div class="b bs" style="left:739.5px;top:1206.1px;width:24.75px;height:8.5px;background:#3fc1b5;border-radius:1px;font-size:4.6px;line-height:10.5px;color:#fff">资金明细</div>
<div class="b bs" style="left:603.75px;top:1216.1px;width:25px;height:8px;background:#f4645b;border-radius:1px;font-size:4.6px;line-height:10.0px;color:#fff">✎ 银行卡</div>
<div style="left:81.5px;top:1228.6px;width:705.2px;height:27px;background:#f9f9f9;"></div>
<div style="left:81.5px;top:1254.8999999999999px;width:705.2px;height:0.7px;background:#ececec;"></div>
<div class="t" style="left:86px;top:1239.46px;font-size:5.6px;line-height:7.28px;color:#666;">470</div>
<div class="t" style="left:110.8px;top:1239.46px;font-size:5.6px;line-height:7.28px;color:#666;">10000470<span class="c" style="font-size:0.96em">【</span>15627877309<span class="c" style="font-size:0.96em">】</span></div>
<div class="t" style="left:193.6px;top:1239.46px;font-size:5.6px;line-height:7.28px;color:#666;"><span class="c" style="font-size:0.96em">冬天的阳光</span></div>
<div class="t" style="left:237px;top:1235.10px;font-size:5.5px;line-height:7px;color:#666">2020-09-24<br>11:20:17</div>
<div class="t" style="left:296px;top:1235.10px;font-size:5.5px;line-height:7px;color:#666">2020-09-27<br>11:58:57</div>
<div class="t" style="left:355px;top:1239.46px;font-size:5.6px;line-height:7.28px;color:#666;">9</div>
<div class="t" style="left:378.5px;top:1239.52px;font-size:5.5px;line-height:7.15px;color:#f0303a;width:40px;overflow:hidden;white-space:nowrap">¥9299.62</div>
<div class="t" style="left:420px;top:1239.52px;font-size:5.5px;line-height:7.15px;color:#f0303a;">¥0.00</div>
<div class="t" style="left:444px;top:1235.10px;font-size:5.2px;line-height:7px;color:#666">客<br>户</div>
<div class="t" style="left:461.5px;top:1239.46px;font-size:5.6px;line-height:7.28px;color:#666;">0%</div>
<div class="t" style="left:480px;top:1239.46px;font-size:5.6px;line-height:7.28px;color:#666;">0%</div>
<div class="t" style="left:498.5px;top:1239.52px;font-size:5.5px;line-height:7.15px;color:#777;">2211978.com</div>
<div class="t" style="left:575px;top:1239.52px;font-size:5.5px;line-height:7.15px;color:#555;"><span class="c" style="font-size:0.96em">离线</span></div>
<div class="b bs" style="left:603.75px;top:1233.1px;width:15.0px;height:8.5px;background:#f4645b;border-radius:1px;font-size:4.6px;line-height:10.5px;color:#fff">禁用</div>
<div class="b bs" style="left:620.5px;top:1233.1px;width:24.0px;height:8.5px;background:#f4645b;border-radius:1px;font-size:4.6px;line-height:10.5px;color:#fff">禁止交易</div>
<div class="b bs" style="left:647px;top:1233.1px;width:29.25px;height:8.5px;background:#6cc24a;border-radius:1px;font-size:4.6px;line-height:10.5px;color:#fff">成为代理商</div>
<div class="b bs" style="left:678.75px;top:1233.1px;width:20.0px;height:8.5px;background:#f4645b;border-radius:1px;font-size:4.6px;line-height:10.5px;color:#fff">✎ 修改</div>
<div class="b bs" style="left:701.25px;top:1233.1px;width:18.75px;height:8.5px;background:#f4645b;border-radius:1px;font-size:4.6px;line-height:10.5px;color:#fff">✎ 删除</div>
<div class="b bs" style="left:723px;top:1233.1px;width:14.5px;height:8.5px;background:#3fc1b5;border-radius:1px;font-size:4.6px;line-height:10.5px;color:#fff">签约</div>
<div class="b bs" style="left:739.5px;top:1233.1px;width:24.75px;height:8.5px;background:#3fc1b5;border-radius:1px;font-size:4.6px;line-height:10.5px;color:#fff">资金明细</div>
<div class="b bs" style="left:603.75px;top:1243.1px;width:25px;height:8px;background:#f4645b;border-radius:1px;font-size:4.6px;line-height:10.0px;color:#fff">✎ 银行卡</div>
<div style="left:81.5px;top:1281.8999999999999px;width:705.2px;height:0.7px;background:#ececec;"></div>
<div class="t" style="left:86px;top:1266.46px;font-size:5.6px;line-height:7.28px;color:#666;">469</div>
<div class="t" style="left:110.8px;top:1266.46px;font-size:5.6px;line-height:7.28px;color:#666;">10000469<span class="c" style="font-size:0.96em">【陈俊帆】</span></div>
<div class="t" style="left:193.6px;top:1266.46px;font-size:5.6px;line-height:7.28px;color:#666;"><span class="c" style="font-size:0.96em">陈俊帆</span></div>
<div class="t" style="left:237px;top:1262.10px;font-size:5.5px;line-height:7px;color:#666">2020-09-24<br>10:30:51</div>
<div class="t" style="left:296px;top:1262.10px;font-size:5.5px;line-height:7px;color:#666">2020-09-27<br>10:40:41</div>
<div class="t" style="left:355px;top:1266.46px;font-size:5.6px;line-height:7.28px;color:#666;">2</div>
<div class="t" style="left:378.5px;top:1266.52px;font-size:5.5px;line-height:7.15px;color:#f0303a;width:40px;overflow:hidden;white-space:nowrap">¥100916.00</div>
<div class="t" style="left:420px;top:1266.52px;font-size:5.5px;line-height:7.15px;color:#f0303a;">¥0.00</div>
<div class="t" style="left:444px;top:1262.10px;font-size:5.2px;line-height:7px;color:#666">客<br>户</div>
<div class="t" style="left:461.5px;top:1266.46px;font-size:5.6px;line-height:7.28px;color:#666;">0%</div>
<div class="t" style="left:480px;top:1266.46px;font-size:5.6px;line-height:7.28px;color:#666;">0%</div>
<div class="t" style="left:498.5px;top:1266.52px;font-size:5.5px;line-height:7.15px;color:#777;">2211978.com</div>
<div class="t" style="left:575px;top:1266.52px;font-size:5.5px;line-height:7.15px;color:#555;"><span class="c" style="font-size:0.96em">离线</span></div>
<div class="b bs" style="left:603.75px;top:1260.1px;width:15.0px;height:8.5px;background:#f4645b;border-radius:1px;font-size:4.6px;line-height:10.5px;color:#fff">禁用</div>
<div class="b bs" style="left:620.5px;top:1260.1px;width:24.0px;height:8.5px;background:#f4645b;border-radius:1px;font-size:4.6px;line-height:10.5px;color:#fff">禁止交易</div>
<div class="b bs" style="left:647px;top:1260.1px;width:29.25px;height:8.5px;background:#6cc24a;border-radius:1px;font-size:4.6px;line-height:10.5px;color:#fff">成为代理商</div>
<div class="b bs" style="left:678.75px;top:1260.1px;width:20.0px;height:8.5px;background:#f4645b;border-radius:1px;font-size:4.6px;line-height:10.5px;color:#fff">✎ 修改</div>
<div class="b bs" style="left:701.25px;top:1260.1px;width:18.75px;height:8.5px;background:#f4645b;border-radius:1px;font-size:4.6px;line-height:10.5px;color:#fff">✎ 删除</div>
<div class="b bs" style="left:723px;top:1260.1px;width:14.5px;height:8.5px;background:#3fc1b5;border-radius:1px;font-size:4.6px;line-height:10.5px;color:#fff">签约</div>
<div class="b bs" style="left:739.5px;top:1260.1px;width:24.75px;height:8.5px;background:#3fc1b5;border-radius:1px;font-size:4.6px;line-height:10.5px;color:#fff">资金明细</div>
<div class="b bs" style="left:603.75px;top:1270.1px;width:25px;height:8px;background:#f4645b;border-radius:1px;font-size:4.6px;line-height:10.0px;color:#fff">✎ 银行卡</div>
<div style="left:81.5px;top:1282.6px;width:705.2px;height:27px;background:#f9f9f9;"></div>
<div style="left:81.5px;top:1308.8999999999999px;width:705.2px;height:0.7px;background:#ececec;"></div>
<div class="t" style="left:86px;top:1293.46px;font-size:5.6px;line-height:7.28px;color:#666;">468</div>
<div class="t" style="left:110.8px;top:1293.46px;font-size:5.6px;line-height:7.28px;color:#666;">10000468<span class="c" style="font-size:0.96em">【</span>18874365083<span class="c" style="font-size:0.96em">】</span></div>
<div class="t" style="left:193.6px;top:1293.46px;font-size:5.6px;line-height:7.28px;color:#666;"><span class="c" style="font-size:0.96em">张旧花</span></div>
<div class="t" style="left:237px;top:1289.10px;font-size:5.5px;line-height:7px;color:#666">2020-09-24<br>09:09:10</div>
<div class="t" style="left:296px;top:1289.10px;font-size:5.5px;line-height:7px;color:#666">2020-09-27<br>14:40:59</div>
<div class="t" style="left:355px;top:1293.46px;font-size:5.6px;line-height:7.28px;color:#666;">7</div>
<div class="t" style="left:378.5px;top:1293.52px;font-size:5.5px;line-height:7.15px;color:#f0303a;width:40px;overflow:hidden;white-space:nowrap">¥93341.20</div>
<div class="t" style="left:420px;top:1293.52px;font-size:5.5px;line-height:7.15px;color:#f0303a;">¥0.00</div>
<div class="t" style="left:444px;top:1289.10px;font-size:5.2px;line-height:7px;color:#666">客<br>户</div>
<div class="t" style="left:461.5px;top:1293.46px;font-size:5.6px;line-height:7.28px;color:#666;">0%</div>
<div class="t" style="left:480px;top:1293.46px;font-size:5.6px;line-height:7.28px;color:#666;">0%</div>
<div class="t" style="left:498.5px;top:1293.52px;font-size:5.5px;line-height:7.15px;color:#777;">2211978.com</div>
<div class="t" style="left:575px;top:1293.52px;font-size:5.5px;line-height:7.15px;color:#555;"><span class="c" style="font-size:0.96em">离线</span></div>
<div class="b bs" style="left:603.75px;top:1287.1px;width:15.0px;height:8.5px;background:#f4645b;border-radius:1px;font-size:4.6px;line-height:10.5px;color:#fff">禁用</div>
<div class="b bs" style="left:620.5px;top:1287.1px;width:24.0px;height:8.5px;background:#f4645b;border-radius:1px;font-size:4.6px;line-height:10.5px;color:#fff">禁止交易</div>
<div class="b bs" style="left:647px;top:1287.1px;width:29.25px;height:8.5px;background:#6cc24a;border-radius:1px;font-size:4.6px;line-height:10.5px;color:#fff">成为代理商</div>
<div class="b bs" style="left:678.75px;top:1287.1px;width:20.0px;height:8.5px;background:#f4645b;border-radius:1px;font-size:4.6px;line-height:10.5px;color:#fff">✎ 修改</div>
<div class="b bs" style="left:701.25px;top:1287.1px;width:18.75px;height:8.5px;background:#f4645b;border-radius:1px;font-size:4.6px;line-height:10.5px;color:#fff">✎ 删除</div>
<div class="b bs" style="left:723px;top:1287.1px;width:14.5px;height:8.5px;background:#3fc1b5;border-radius:1px;font-size:4.6px;line-height:10.5px;color:#fff">签约</div>
<div class="b bs" style="left:739.5px;top:1287.1px;width:24.75px;height:8.5px;background:#3fc1b5;border-radius:1px;font-size:4.6px;line-height:10.5px;color:#fff">资金明细</div>
<div class="b bs" style="left:603.75px;top:1297.1px;width:25px;height:8px;background:#f4645b;border-radius:1px;font-size:4.6px;line-height:10.0px;color:#fff">✎ 银行卡</div>
<div style="left:81.5px;top:1335.8999999999999px;width:705.2px;height:0.7px;background:#ececec;"></div>
<div class="t" style="left:86px;top:1320.46px;font-size:5.6px;line-height:7.28px;color:#666;">467</div>
<div class="t" style="left:110.8px;top:1320.46px;font-size:5.6px;line-height:7.28px;color:#666;">10000467<span class="c" style="font-size:0.96em">【</span>13400000001<span class="c" style="font-size:0.96em">】</span></div>
<div class="t" style="left:193.6px;top:1320.46px;font-size:5.6px;line-height:7.28px;color:#666;">liping</div>
<div class="t" style="left:237px;top:1316.10px;font-size:5.5px;line-height:7px;color:#666">2020-09-20<br>20:39:34</div>
<div class="t" style="left:296px;top:1316.10px;font-size:5.5px;line-height:7px;color:#666">2020-09-20<br>20:39:34</div>
<div class="t" style="left:355px;top:1320.46px;font-size:5.6px;line-height:7.28px;color:#666;">0</div>
<div class="t" style="left:378.5px;top:1320.52px;font-size:5.5px;line-height:7.15px;color:#f0303a;width:40px;overflow:hidden;white-space:nowrap">¥0.00</div>
<div class="t" style="left:420px;top:1320.52px;font-size:5.5px;line-height:7.15px;color:#f0303a;">¥0.00</div>
<div class="t" style="left:444px;top:1316.10px;font-size:5.2px;line-height:7px;color:#666">客<br>户</div>
<div class="t" style="left:461.5px;top:1320.46px;font-size:5.6px;line-height:7.28px;color:#666;">0%</div>
<div class="t" style="left:480px;top:1320.46px;font-size:5.6px;line-height:7.28px;color:#666;">0%</div>
<div class="t" style="left:498.5px;top:1320.52px;font-size:5.5px;line-height:7.15px;color:#777;">2211978.com</div>
<div class="t" style="left:575px;top:1320.52px;font-size:5.5px;line-height:7.15px;color:#555;"><span class="c" style="font-size:0.96em">离线</span></div>
<div class="b bs" style="left:603.75px;top:1314.1px;width:15.0px;height:8.5px;background:#f4645b;border-radius:1px;font-size:4.6px;line-height:10.5px;color:#fff">禁用</div>
<div class="b bs" style="left:620.5px;top:1314.1px;width:24.0px;height:8.5px;background:#f4645b;border-radius:1px;font-size:4.6px;line-height:10.5px;color:#fff">禁止交易</div>
<div class="b bs" style="left:647px;top:1314.1px;width:29.25px;height:8.5px;background:#6cc24a;border-radius:1px;font-size:4.6px;line-height:10.5px;color:#fff">成为代理商</div>
<div class="b bs" style="left:678.75px;top:1314.1px;width:20.0px;height:8.5px;background:#f4645b;border-radius:1px;font-size:4.6px;line-height:10.5px;color:#fff">✎ 修改</div>
<div class="b bs" style="left:701.25px;top:1314.1px;width:18.75px;height:8.5px;background:#f4645b;border-radius:1px;font-size:4.6px;line-height:10.5px;color:#fff">✎ 删除</div>
<div class="b bs" style="left:723px;top:1314.1px;width:14.5px;height:8.5px;background:#3fc1b5;border-radius:1px;font-size:4.6px;line-height:10.5px;color:#fff">签约</div>
<div class="b bs" style="left:739.5px;top:1314.1px;width:24.75px;height:8.5px;background:#3fc1b5;border-radius:1px;font-size:4.6px;line-height:10.5px;color:#fff">资金明细</div>
<div class="b bs" style="left:603.75px;top:1324.1px;width:25px;height:8px;background:#f4645b;border-radius:1px;font-size:4.6px;line-height:10.0px;color:#fff">✎ 银行卡</div>
<div style="left:81.5px;top:1336.6px;width:705.2px;height:27px;background:#f9f9f9;"></div>
<div style="left:81.5px;top:1362.8999999999999px;width:705.2px;height:0.7px;background:#ececec;"></div>
<div class="t" style="left:86px;top:1347.46px;font-size:5.6px;line-height:7.28px;color:#666;">466</div>
<div class="t" style="left:110.8px;top:1347.46px;font-size:5.6px;line-height:7.28px;color:#666;">10000466<span class="c" style="font-size:0.96em">【</span>19877409288<span class="c" style="font-size:0.96em">】</span></div>
<div class="t" style="left:193.6px;top:1347.46px;font-size:5.6px;line-height:7.28px;color:#666;"><span class="c" style="font-size:0.96em">黄得平</span></div>
<div class="t" style="left:237px;top:1343.10px;font-size:5.5px;line-height:7px;color:#666">2020-09-19<br>14:56:37</div>
<div class="t" style="left:296px;top:1343.10px;font-size:5.5px;line-height:7px;color:#666">2020-09-27<br>15:31:08</div>
<div class="t" style="left:355px;top:1347.46px;font-size:5.6px;line-height:7.28px;color:#666;">3</div>
<div class="t" style="left:378.5px;top:1347.52px;font-size:5.5px;line-height:7.15px;color:#f0303a;width:40px;overflow:hidden;white-space:nowrap">¥319021.01</div>
<div class="t" style="left:420px;top:1347.52px;font-size:5.5px;line-height:7.15px;color:#f0303a;">¥0.00</div>
<div class="t" style="left:444px;top:1343.10px;font-size:5.2px;line-height:7px;color:#666">客<br>户</div>
<div class="t" style="left:461.5px;top:1347.46px;font-size:5.6px;line-height:7.28px;color:#666;">0%</div>
<div class="t" style="left:480px;top:1347.46px;font-size:5.6px;line-height:7.28px;color:#666;">0%</div>
<div class="t" style="left:498.5px;top:1347.52px;font-size:5.5px;line-height:7.15px;color:#777;">2211978.com</div>
<div class="t" style="left:575px;top:1347.52px;font-size:5.5px;line-height:7.15px;color:#555;"><span class="c" style="font-size:0.96em">离线</span></div>
<div class="b bs" style="left:603.75px;top:1341.1px;width:15.0px;height:8.5px;background:#f4645b;border-radius:1px;font-size:4.6px;line-height:10.5px;color:#fff">禁用</div>
<div class="b bs" style="left:620.5px;top:1341.1px;width:24.0px;height:8.5px;background:#f4645b;border-radius:1px;font-size:4.6px;line-height:10.5px;color:#fff">禁止交易</div>
<div class="b bs" style="left:647px;top:1341.1px;width:29.25px;height:8.5px;background:#6cc24a;border-radius:1px;font-size:4.6px;line-height:10.5px;color:#fff">成为代理商</div>
<div class="b bs" style="left:678.75px;top:1341.1px;width:20.0px;height:8.5px;background:#f4645b;border-radius:1px;font-size:4.6px;line-height:10.5px;color:#fff">✎ 修改</div>
<div class="b bs" style="left:701.25px;top:1341.1px;width:18.75px;height:8.5px;background:#f4645b;border-radius:1px;font-size:4.6px;line-height:10.5px;color:#fff">✎ 删除</div>
<div class="b bs" style="left:723px;top:1341.1px;width:14.5px;height:8.5px;background:#3fc1b5;border-radius:1px;font-size:4.6px;line-height:10.5px;color:#fff">签约</div>
<div class="b bs" style="left:739.5px;top:1341.1px;width:24.75px;height:8.5px;background:#3fc1b5;border-radius:1px;font-size:4.6px;line-height:10.5px;color:#fff">资金明细</div>
<div class="b bs" style="left:603.75px;top:1351.1px;width:25px;height:8px;background:#f4645b;border-radius:1px;font-size:4.6px;line-height:10.0px;color:#fff">✎ 银行卡</div>
<div class="b" style="left:83px;top:1382px;width:12.5px;height:12px;background:#fff;border:0.5px solid #e8e8e8;box-sizing:border-box;font-size:5.2px;line-height:11px;color:#888">«</div>
<div class="b" style="left:95.5px;top:1382px;width:13.75px;height:12px;background:#3a87c8;border:0.5px solid #3a87c8;box-sizing:border-box;font-size:5.2px;line-height:11px;color:#fff">1</div>
<div class="b" style="left:109.25px;top:1382px;width:13.5px;height:12px;background:#fff;border:0.5px solid #e8e8e8;box-sizing:border-box;font-size:5.2px;line-height:11px;color:#888">2</div>
<div class="b" style="left:122.75px;top:1382px;width:13.5px;height:12px;background:#fff;border:0.5px solid #e8e8e8;box-sizing:border-box;font-size:5.2px;line-height:11px;color:#888">3</div>
<div class="b" style="left:136.25px;top:1382px;width:13.75px;height:12px;background:#fff;border:0.5px solid #e8e8e8;box-sizing:border-box;font-size:5.2px;line-height:11px;color:#888">4</div>
<div class="b" style="left:150px;top:1382px;width:13.25px;height:12px;background:#fff;border:0.5px solid #e8e8e8;box-sizing:border-box;font-size:5.2px;line-height:11px;color:#888">5</div>
<div class="b" style="left:163.25px;top:1382px;width:13.75px;height:12px;background:#fff;border:0.5px solid #e8e8e8;box-sizing:border-box;font-size:5.2px;line-height:11px;color:#888">6</div>
<div class="b" style="left:177px;top:1382px;width:13.75px;height:12px;background:#fff;border:0.5px solid #e8e8e8;box-sizing:border-box;font-size:5.2px;line-height:11px;color:#888">7</div>
<div class="b" style="left:190.75px;top:1382px;width:13.5px;height:12px;background:#fff;border:0.5px solid #e8e8e8;box-sizing:border-box;font-size:5.2px;line-height:11px;color:#888">8</div>
<div class="b" style="left:204.25px;top:1382px;width:14.25px;height:12px;background:#fff;border:0.5px solid #e8e8e8;box-sizing:border-box;font-size:5.2px;line-height:11px;color:#888">...</div>
<div class="b" style="left:218.5px;top:1382px;width:16.75px;height:12px;background:#fff;border:0.5px solid #e8e8e8;box-sizing:border-box;font-size:5.2px;line-height:11px;color:#888">12</div>
<div class="b" style="left:235.25px;top:1382px;width:17.0px;height:12px;background:#fff;border:0.5px solid #e8e8e8;box-sizing:border-box;font-size:5.2px;line-height:11px;color:#888">14</div>
<div class="b" style="left:252.25px;top:1382px;width:13.0px;height:12px;background:#fff;border:0.5px solid #e8e8e8;box-sizing:border-box;font-size:5.2px;line-height:11px;color:#888">»</div>
<div style="left:0px;top:1445px;width:800px;height:7px;background:#eef0f4;"></div>
<div style="left:0px;top:1452px;width:800px;height:25px;background:#fff;"></div>
<div style="left:7px;top:1461.9px;width:7px;height:1.3px;background:#858585;"></div>
<div style="left:7px;top:1464.2px;width:7px;height:1.3px;background:#858585;"></div>
<div style="left:7px;top:1466.5px;width:7px;height:1.3px;background:#858585;"></div>
<div class="t" style="left:21px;top:1461.11px;font-size:8.6px;line-height:11.18px;color:#f4574d;">系统</div>
<div style="left:766.5px;top:1455.3px;width:28px;height:14px;border:1px solid #f0f0f0;box-sizing:border-box;background:#fff"></div>
<div class="t" style="left:769.5px;top:1459.92px;font-size:5.2px;line-height:6.76px;color:#666;">admin</div>
<div class="t" style="left:788.5px;top:1461.00px;font-size:4px;line-height:5.20px;color:#888;">▾</div>
<div style="left:1px;top:1477px;width:75px;height:327px;background:#2a3443;"></div>
<div style="left:75px;top:1477px;width:1px;height:327px;background:#222b38;"></div>
<div style="left:5.3px;top:1551px;width:66.9px;height:108px;background:#343e4c;"></div>
<svg style="position:absolute;left:8.8px;top:1490.30px" width="7" height="6" viewBox="0 0 7 6"><path d="M0.2 5.8 C0.2 -1.0 6.8 -1.0 6.8 5.8 Z" fill="#c3c7cd"/><path d="M3.5 5.6 L5 2.4" stroke="#2a3443" stroke-width="0.9"/><path d="M2.3 5.6 L4.7 5.6" stroke="#2a3443" stroke-width="0.8"/></svg>
<div class="t" style="left:19.75px;top:1490.28px;font-size:5.1px;line-height:6.63px;color:#aeb3bb;">后台首页</div>
<svg style="position:absolute;left:9.2px;top:1513.10px" width="5" height="6.8" viewBox="0 0 5 6.8"><path d="M0.6 0.5 H2.6 C4.6 0.5 4.6 3.2 2.8 3.3 C5 3.4 5 6.3 2.6 6.3 H0.6 Z" fill="#c3c7cd"/><path d="M1.9 1.6 V5.2" stroke="#2a3443" stroke-width="0.7"/></svg>
<div class="t" style="left:17.75px;top:1513.28px;font-size:5.1px;line-height:6.63px;color:#aeb3bb;">产品管理</div>
<svg style="position:absolute;left:65.3px;top:1514.20px" width="4" height="4.6" viewBox="0 0 4 4.6"><polygon points="0.5,0.6 3.1,2.3 0.5,4.0" fill="#e8eaee"/></svg>
<div style="left:9px;top:1536.3px;width:4.2px;height:6.2px;background:#c3c7cd"></div>
<div style="left:11.6px;top:1537.9px;width:4px;height:4.8px;border:1px solid #c3c7cd;box-sizing:border-box;border-radius:0 1.5px 1.5px 0;background:#2a3443"></div>
<div class="t" style="left:19.75px;top:1536.28px;font-size:5.1px;line-height:6.63px;color:#aeb3bb;">订单管理</div>
<svg style="position:absolute;left:65.3px;top:1537.20px" width="4" height="4.6" viewBox="0 0 4 4.6"><polygon points="0.5,0.6 3.1,2.3 0.5,4.0" fill="#e8eaee"/></svg>
<svg style="position:absolute;left:8.8px;top:1558.60px" width="6.4" height="6.6" viewBox="0 0 6.4 6.6"><circle cx="3.2" cy="1.9" r="1.75" fill="#f0584e"/><path d="M0 6.6 C0 4.2 1.2 3.3 3.2 3.3 C5.2 3.3 6.4 4.2 6.4 6.6 Z" fill="#f0584e"/></svg>
<div class="t" style="left:18px;top:1558.78px;font-size:5.1px;line-height:6.63px;color:#fff;font-weight:bold">用户管理</div>
<svg style="position:absolute;left:65.3px;top:1559.70px" width="4" height="4.6" viewBox="0 0 4 4.6"><polygon points="0.5,0.6 3.1,2.3 0.5,4.0" fill="#e8eaee"/></svg>
<div class="t" style="left:9px;top:1667.5px;font-size:6.5px;line-height:8px;color:#c3c7cd;font-weight:bold">¥</div>
<div class="t" style="left:17px;top:1668.28px;font-size:5.1px;line-height:6.63px;color:#aeb3bb;">报表管理</div>
<svg style="position:absolute;left:65.3px;top:1669.20px" width="4" height="4.6" viewBox="0 0 4 4.6"><polygon points="0.5,0.6 3.1,2.3 0.5,4.0" fill="#e8eaee"/></svg>
<div style="left:9px;top:1691.3px;width:4.2px;height:6.2px;background:#c3c7cd"></div>
<div style="left:11.6px;top:1692.9px;width:4px;height:4.8px;border:1px solid #c3c7cd;box-sizing:border-box;border-radius:0 1.5px 1.5px 0;background:#2a3443"></div>
<div class="t" style="left:19.75px;top:1691.28px;font-size:5.1px;line-height:6.63px;color:#aeb3bb;">参数设置</div>
<svg style="position:absolute;left:65.3px;top:1692.20px" width="4" height="4.6" viewBox="0 0 4 4.6"><polygon points="0.5,0.6 3.1,2.3 0.5,4.0" fill="#e8eaee"/></svg>
<div style="left:9px;top:1716px;width:4.2px;height:4.2px;border:1.2px solid #c3c7cd;border-radius:50%;box-sizing:border-box"></div>
<div style="left:13.2px;top:1714.8px;width:2.6px;height:2.6px;background:#c3c7cd;border-radius:50%"></div>
<div style="left:13.2px;top:1718.8px;width:2.6px;height:2.6px;background:#c3c7cd;border-radius:50%"></div>
<div class="t" style="left:20.2px;top:1714.78px;font-size:5.1px;line-height:6.63px;color:#aeb3bb;">系统设置</div>
<svg style="position:absolute;left:65.3px;top:1715.70px" width="4" height="4.6" viewBox="0 0 4 4.6"><polygon points="0.5,0.6 3.1,2.3 0.5,4.0" fill="#e8eaee"/></svg>
<div style="left:8.8px;top:1738.3px;width:1.2px;height:4.4px;background:#c3c7cd"></div>
<div style="left:11px;top:1739.7px;width:2px;height:1.6px;background:#c3c7cd"></div>
<div style="left:12.8px;top:1738.3px;width:0;height:0;border-top:2.2px solid transparent;border-bottom:2.2px solid transparent;border-left:2.4px solid #c3c7cd"></div>
<div class="t" style="left:18.9px;top:1737.28px;font-size:5.1px;line-height:6.63px;color:#aeb3bb;">退出</div>
<div class="t" style="left:18.7px;top:1576.08px;font-size:5.1px;line-height:6.63px;color:#80868f;">客户列表</div>
<div class="t" style="left:18.7px;top:1591.08px;font-size:5.1px;line-height:6.63px;color:#80868f;">我的团队</div>
<div class="t" style="left:18.7px;top:1605.78px;font-size:5.1px;line-height:6.63px;color:#f0584e;font-weight:bold">充值列表</div>
<div class="t" style="left:18.7px;top:1620.38px;font-size:5.1px;line-height:6.63px;color:#80868f;">提现列表</div>
<div class="t" style="left:18.7px;top:1635.18px;font-size:5.1px;line-height:6.63px;color:#80868f;">手动充值</div>
<div class="t" style="left:18.7px;top:1649.78px;font-size:5.1px;line-height:6.63px;color:#80868f;">登陆日志</div>
<div style="left:76px;top:1477px;width:2px;height:327px;background:#fafafc;"></div>
<div style="left:78px;top:1477px;width:722px;height:327px;background:#eff0f5;"></div>
<div style="left:197.25px;top:1487.8px;width:108px;height:14.2px;background:#fff;border:0.5px solid #e6e6e6;box-sizing:border-box"></div>
<div style="left:197.25px;top:1487.8px;width:37.5px;height:14.2px;background:#eeeeee;border:0.5px solid #e2e2e2;box-sizing:border-box"></div>
<div style="left:202.5px;top:1490.3px;width:27px;height:9.4px;background:#fff;border:0.6px solid #c8c8c8;box-sizing:border-box;border-radius:1px"></div>
<div class="t" style="left:204.3px;top:1492.23px;font-size:5.8px;line-height:7.54px;color:#333;"><span class="c" style="font-size:0.96em">账户</span></div>
<svg style="position:absolute;left:225px;top:1494px" width="3" height="2.4" viewBox="0 0 3 2.4"><polygon points="0,0 3,0 1.5,2.4" fill="#222"/></svg>
<div style="left:319.3px;top:1487.6px;width:229.7px;height:13.8px;background:#fff;border:0.5px solid #e6e6e6;box-sizing:border-box"></div>
<div style="left:319.3px;top:1487.6px;width:33.3px;height:13.8px;background:#eeeeee;border:0.5px solid #e2e2e2;box-sizing:border-box"></div>
<div class="t" style="left:319.30px;top:1491.66px;width:33.3px;text-align:center;font-size:5.9px;line-height:7.67px;color:#777;">订单时间</div>
<div class="t" style="left:356.6px;top:1491.66px;font-size:5.9px;line-height:7.67px;color:#b5b5b5;"><span class="c" style="font-size:0.96em">点击选择时间</span></div>
<div style="left:444px;top:1487.6px;width:11px;height:13.8px;background:#eeeeee;border:0.5px solid #e2e2e2;box-sizing:border-box"></div>
<div class="t" style="left:444.00px;top:1491.66px;width:11px;text-align:center;font-size:5.9px;line-height:7.67px;color:#777;">至</div>
<div class="t" style="left:459px;top:1491.66px;font-size:5.9px;line-height:7.67px;color:#b5b5b5;"><span class="c" style="font-size:0.96em">点击选择时间</span></div>
<div style="left:562.5px;top:1487.6px;width:109px;height:13.8px;background:#fff;border:0.5px solid #e6e6e6;box-sizing:border-box"></div>
<div style="left:562.5px;top:1487.6px;width:22.5px;height:13.8px;background:#eeeeee;border:0.5px solid #e2e2e2;box-sizing:border-box"></div>
<div class="t" style="left:562.50px;top:1491.66px;width:22.5px;text-align:center;font-size:5.9px;line-height:7.67px;color:#777;">类型</div>
<div class="t" style="left:592.0px;top:1491.66px;font-size:5.9px;line-height:7.67px;color:#333;"><span class="c" style="font-size:0.96em">默认不选</span></div>
<svg style="position:absolute;left:666px;top:1493.30px" width="3" height="2.4" viewBox="0 0 3 2.4"><polygon points="0,0 3,0 1.5,2.4" fill="#222"/></svg>
<div class="b" style="left:197px;top:1511.4px;width:22px;height:14px;background:#6cc24a;border-radius:1.5px;font-size:6px;line-height:16.0px;color:#fff">搜索</div>
<div class="b" style="left:81.8px;top:1530px;width:34.2px;height:14px;background:#f4645b;border-radius:1.5px;font-size:6px;line-height:16.0px;color:#fff">搜索全部</div>
<div class="b" style="left:123px;top:1530px;width:84.6px;height:14px;background:#f4645b;border-radius:1.5px;font-size:6px;line-height:16.0px;color:#fff">充值总金额：202440752.11</div>
<div style="left:81.5px;top:1551.3px;width:705px;height:260px;background:#fff;"></div>
<div class="t" style="left:88.5px;top:1556.51px;font-size:6.6px;line-height:8.58px;color:#999;">充值与提现</div>
<div style="left:81.5px;top:1568.4px;width:705px;height:0.8px;background:#f0f0f0;"></div>
<div style="left:81.5px;top:1585px;width:705px;height:1px;background:#e2e2e2;"></div>
<div class="t" style="left:87px;top:1574.86px;font-size:5.6px;line-height:7.28px;color:#4a4a4a;"><span class="c" style="font-size:0.96em">编号</span></div>
<div class="t" style="left:127px;top:1574.86px;font-size:5.6px;line-height:7.28px;color:#4a4a4a;"><span class="c" style="font-size:0.96em">交易编号</span></div>
<div class="t" style="left:199px;top:1574.86px;font-size:5.6px;line-height:7.28px;color:#4a4a4a;"><span class="c" style="font-size:0.96em">交易姓名</span></div>
<div class="t" style="left:275px;top:1574.86px;font-size:5.6px;line-height:7.28px;color:#4a4a4a;"><span class="c" style="font-size:0.96em">操作时间</span></div>
<div class="t" style="left:408px;top:1574.86px;font-size:5.6px;line-height:7.28px;color:#4a4a4a;"><span class="c" style="font-size:0.96em">金额</span></div>
<div class="t" style="left:497px;top:1574.86px;font-size:5.6px;line-height:7.28px;color:#4a4a4a;"><span class="c" style="font-size:0.96em">会员账户余额</span></div>
<div class="t" style="left:585px;top:1574.86px;font-size:5.6px;line-height:7.28px;color:#4a4a4a;"><span class="c" style="font-size:0.96em">备注</span></div>
<div class="t" style="left:626px;top:1574.86px;font-size:5.6px;line-height:7.28px;color:#4a4a4a;"><span class="c" style="font-size:0.96em">审核</span>/<span class="c" style="font-size:0.96em">状态</span></div>
<div style="left:81.5px;top:1585.3px;width:705px;height:18.0px;background:#f9f9f9;"></div>
<div style="left:81.5px;top:1602.6px;width:705px;height:0.7px;background:#ececec;"></div>
<div class="t" style="left:87px;top:1591.66px;font-size:5.6px;line-height:7.28px;color:#666;">094</div>
<div class="t" style="left:127px;top:1591.66px;font-size:5.6px;line-height:7.28px;color:#666;">10000480</div>
<div class="t" style="left:199px;top:1591.66px;font-size:5.6px;line-height:7.28px;color:#666;"><span class="c" style="font-size:0.96em">阿登源码</span></div>
<div class="t" style="left:275px;top:1591.66px;font-size:5.6px;line-height:7.28px;color:#666;">2020-11-21 11:55:55</div>
<div class="t" style="left:408px;top:1591.72px;font-size:5.5px;line-height:7.15px;color:#f0303a;">¥100</div>
<div class="t" style="left:497px;top:1591.72px;font-size:5.5px;line-height:7.15px;color:#f0303a;">0.00</div>
<div class="t" style="left:585px;top:1591.72px;font-size:5.5px;line-height:7.15px;color:#777;">yhk</div>
<div class="b bs" style="left:625.5px;top:1589.8999999999999px;width:24.5px;height:8.8px;background:#3fc1b5;border-radius:1px;font-size:4.6px;line-height:10.8px;color:#fff">审核到账</div>
<div class="b bs" style="left:652px;top:1589.8999999999999px;width:24.75px;height:8.8px;background:#3fc1b5;border-radius:1px;font-size:4.6px;line-height:10.8px;color:#fff">审核失败</div>
<div class="b bs" style="left:679.25px;top:1589.8999999999999px;width:14.5px;height:8.8px;background:#3fc1b5;border-radius:1px;font-size:4.6px;line-height:10.8px;color:#fff">删除</div>
<div style="left:81.5px;top:1620.6px;width:705px;height:0.7px;background:#ececec;"></div>
<div class="t" style="left:87px;top:1609.66px;font-size:5.6px;line-height:7.28px;color:#666;">093</div>
<div class="t" style="left:127px;top:1609.66px;font-size:5.6px;line-height:7.28px;color:#666;">10000480</div>
<div class="t" style="left:199px;top:1609.66px;font-size:5.6px;line-height:7.28px;color:#666;"><span class="c" style="font-size:0.96em">阿登源码</span></div>
<div class="t" style="left:275px;top:1609.66px;font-size:5.6px;line-height:7.28px;color:#666;">2020-11-21 11:55:34</div>
<div class="t" style="left:408px;top:1609.72px;font-size:5.5px;line-height:7.15px;color:#f0303a;">¥100</div>
<div class="t" style="left:497px;top:1609.72px;font-size:5.5px;line-height:7.15px;color:#f0303a;">0.00</div>
<div class="t" style="left:585px;top:1609.72px;font-size:5.5px;line-height:7.15px;color:#777;">yhk</div>
<div class="b bs" style="left:625.5px;top:1607.8999999999999px;width:24.5px;height:8.8px;background:#3fc1b5;border-radius:1px;font-size:4.6px;line-height:10.8px;color:#fff">审核到账</div>
<div class="b bs" style="left:652px;top:1607.8999999999999px;width:24.75px;height:8.8px;background:#3fc1b5;border-radius:1px;font-size:4.6px;line-height:10.8px;color:#fff">审核失败</div>
<div class="b bs" style="left:679.25px;top:1607.8999999999999px;width:14.5px;height:8.8px;background:#3fc1b5;border-radius:1px;font-size:4.6px;line-height:10.8px;color:#fff">删除</div>
<div style="left:81.5px;top:1621.3px;width:705px;height:18.0px;background:#f9f9f9;"></div>
<div style="left:81.5px;top:1638.6px;width:705px;height:0.7px;background:#ececec;"></div>
<div class="t" style="left:87px;top:1627.66px;font-size:5.6px;line-height:7.28px;color:#666;">092</div>
<div class="t" style="left:127px;top:1627.66px;font-size:5.6px;line-height:7.28px;color:#666;">10000272</div>
<div class="t" style="left:199px;top:1627.66px;font-size:5.6px;line-height:7.28px;color:#666;">123456</div>
<div class="t" style="left:275px;top:1627.66px;font-size:5.6px;line-height:7.28px;color:#666;">2020-09-27 14:53:16</div>
<div class="t" style="left:408px;top:1627.72px;font-size:5.5px;line-height:7.15px;color:#f0303a;">¥100</div>
<div class="t" style="left:497px;top:1627.72px;font-size:5.5px;line-height:7.15px;color:#f0303a;">2382.00</div>
<div class="t" style="left:585px;top:1627.72px;font-size:5.5px;line-height:7.15px;color:#777;">yhk</div>
<div class="t" style="left:626px;top:1628.05px;font-size:5px;line-height:6.50px;color:#f0303a;">已拒绝</div>
<div class="b bs" style="left:643.75px;top:1626.1px;width:14.25px;height:8.4px;background:#3fc1b5;border-radius:1px;font-size:4.6px;line-height:10.4px;color:#fff">删除</div>
<div style="left:81.5px;top:1656.6px;width:705px;height:0.7px;background:#ececec;"></div>
<div class="t" style="left:87px;top:1645.66px;font-size:5.6px;line-height:7.28px;color:#666;">889</div>
<div class="t" style="left:127px;top:1645.66px;font-size:5.6px;line-height:7.28px;color:#666;">10000454</div>
<div class="t" style="left:199px;top:1645.66px;font-size:5.6px;line-height:7.28px;color:#666;"><span class="c" style="font-size:0.96em">郑民业</span></div>
<div class="t" style="left:275px;top:1645.66px;font-size:5.6px;line-height:7.28px;color:#666;">2020-09-26 19:55:44</div>
<div class="t" style="left:408px;top:1645.72px;font-size:5.5px;line-height:7.15px;color:#f0303a;">¥200000</div>
<div class="t" style="left:497px;top:1645.72px;font-size:5.5px;line-height:7.15px;color:#f0303a;">401123.92</div>
<div class="t" style="left:585px;top:1645.72px;font-size:5.5px;line-height:7.15px;color:#777;">yhk</div>
<div class="t" style="left:626px;top:1646.05px;font-size:5px;line-height:6.50px;color:#777;">会员充值</div>
<div class="b bs" style="left:649px;top:1644.1px;width:14.25px;height:8.4px;background:#3fc1b5;border-radius:1px;font-size:4.6px;line-height:10.4px;color:#fff">删除</div>
<div style="left:81.5px;top:1657.3px;width:705px;height:18.0px;background:#f9f9f9;"></div>
<div style="left:81.5px;top:1674.6px;width:705px;height:0.7px;background:#ececec;"></div>
<div class="t" style="left:87px;top:1663.66px;font-size:5.6px;line-height:7.28px;color:#666;">888</div>
<div class="t" style="left:127px;top:1663.66px;font-size:5.6px;line-height:7.28px;color:#666;">10000476</div>
<div class="t" style="left:199px;top:1663.66px;font-size:5.6px;line-height:7.28px;color:#666;"><span class="c" style="font-size:0.96em">张爽</span></div>
<div class="t" style="left:275px;top:1663.66px;font-size:5.6px;line-height:7.28px;color:#666;">2020-09-26 19:07:06</div>
<div class="t" style="left:408px;top:1663.72px;font-size:5.5px;line-height:7.15px;color:#f0303a;">¥1100</div>
<div class="t" style="left:497px;top:1663.72px;font-size:5.5px;line-height:7.15px;color:#f0303a;">1177.02</div>
<div class="t" style="left:626px;top:1664.05px;font-size:5px;line-height:6.50px;color:#3aa03a;">已通过</div>
<div class="b bs" style="left:643.75px;top:1662.1px;width:14.25px;height:8.4px;background:#3fc1b5;border-radius:1px;font-size:4.6px;line-height:10.4px;color:#fff">删除</div>
<div style="left:81.5px;top:1675.3px;width:705px;height:18.0px;background:#f2f2f2;"></div>
<div style="left:81.5px;top:1692.6px;width:705px;height:0.7px;background:#ececec;"></div>
<div class="t" style="left:87px;top:1681.66px;font-size:5.6px;line-height:7.28px;color:#666;">885</div>
<div class="t" style="left:127px;top:1681.66px;font-size:5.6px;line-height:7.28px;color:#666;">10000476</div>
<div class="t" style="left:199px;top:1681.66px;font-size:5.6px;line-height:7.28px;color:#666;"><span class="c" style="font-size:0.96em">张爽</span></div>
<div class="t" style="left:275px;top:1681.66px;font-size:5.6px;line-height:7.28px;color:#666;">2020-09-26 16:34:13</div>
<div class="t" style="left:408px;top:1681.72px;font-size:5.5px;line-height:7.15px;color:#f0303a;">¥1</div>
<div class="t" style="left:497px;top:1681.72px;font-size:5.5px;line-height:7.15px;color:#f0303a;">1177.02</div>
<div class="t" style="left:585px;top:1681.72px;font-size:5.5px;line-height:7.15px;color:#777;">yhk</div>
<div class="t" style="left:626px;top:1682.05px;font-size:5px;line-height:6.50px;color:#f0303a;">已拒绝</div>
<div class="b bs" style="left:643.75px;top:1680.1px;width:14.25px;height:8.4px;background:#3fc1b5;border-radius:1px;font-size:4.6px;line-height:10.4px;color:#fff">删除</div>
<div style="left:81.5px;top:1693.3px;width:705px;height:18.0px;background:#f9f9f9;"></div>
<div style="left:81.5px;top:1710.6px;width:705px;height:0.7px;background:#ececec;"></div>
<div class="t" style="left:87px;top:1699.66px;font-size:5.6px;line-height:7.28px;color:#666;">883</div>
<div class="t" style="left:127px;top:1699.66px;font-size:5.6px;line-height:7.28px;color:#666;">10000470</div>
<div class="t" style="left:199px;top:1699.66px;font-size:5.6px;line-height:7.28px;color:#666;"><span class="c" style="font-size:0.96em">冬天的阳光</span></div>
<div class="t" style="left:275px;top:1699.66px;font-size:5.6px;line-height:7.28px;color:#666;">2020-09-26 15:35:56</div>
<div class="t" style="left:408px;top:1699.72px;font-size:5.5px;line-height:7.15px;color:#f0303a;">¥5900</div>
<div class="t" style="left:497px;top:1699.72px;font-size:5.5px;line-height:7.15px;color:#f0303a;">8071.62</div>
<div class="t" style="left:626px;top:1700.05px;font-size:5px;line-height:6.50px;color:#3aa03a;">已通过</div>
<div class="b bs" style="left:643.75px;top:1698.1px;width:14.25px;height:8.4px;background:#3fc1b5;border-radius:1px;font-size:4.6px;line-height:10.4px;color:#fff">删除</div>
<div style="left:81.5px;top:1728.6px;width:705px;height:0.7px;background:#ececec;"></div>
<div class="t" style="left:87px;top:1717.66px;font-size:5.6px;line-height:7.28px;color:#666;">880</div>
<div class="t" style="left:127px;top:1717.66px;font-size:5.6px;line-height:7.28px;color:#666;">10000449</div>
<div class="t" style="left:199px;top:1717.66px;font-size:5.6px;line-height:7.28px;color:#666;">WWWW</div>
<div class="t" style="left:275px;top:1717.66px;font-size:5.6px;line-height:7.28px;color:#666;">2020-09-25 19:29:49</div>
<div class="t" style="left:408px;top:1717.72px;font-size:5.5px;line-height:7.15px;color:#f0303a;">¥250000</div>
<div class="t" style="left:497px;top:1717.72px;font-size:5.5px;line-height:7.15px;color:#f0303a;">133030.40</div>
<div class="t" style="left:585px;top:1717.72px;font-size:5.5px;line-height:7.15px;color:#777;">yhk</div>
<div class="t" style="left:626px;top:1718.05px;font-size:5px;line-height:6.50px;color:#777;">会员充值</div>
<div class="b bs" style="left:649px;top:1716.1px;width:14.25px;height:8.4px;background:#3fc1b5;border-radius:1px;font-size:4.6px;line-height:10.4px;color:#fff">删除</div>
<div style="left:81.5px;top:1729.3px;width:705px;height:18.0px;background:#f9f9f9;"></div>
<div style="left:81.5px;top:1746.6px;width:705px;height:0.7px;background:#ececec;"></div>
<div class="t" style="left:87px;top:1735.66px;font-size:5.6px;line-height:7.28px;color:#666;">879</div>
<div class="t" style="left:127px;top:1735.66px;font-size:5.6px;line-height:7.28px;color:#666;">10000470</div>
<div class="t" style="left:199px;top:1735.66px;font-size:5.6px;line-height:7.28px;color:#666;"><span class="c" style="font-size:0.96em">冬天的阳光</span></div>
<div class="t" style="left:275px;top:1735.66px;font-size:5.6px;line-height:7.28px;color:#666;">2020-09-25 17:13:51</div>
<div class="t" style="left:408px;top:1735.72px;font-size:5.5px;line-height:7.15px;color:#f0303a;">¥1000</div>
<div class="t" style="left:497px;top:1735.72px;font-size:5.5px;line-height:7.15px;color:#f0303a;">2011.62</div>
<div class="t" style="left:626px;top:1736.05px;font-size:5px;line-height:6.50px;color:#3aa03a;">已通过</div>
<div class="b bs" style="left:643.75px;top:1734.1px;width:14.25px;height:8.4px;background:#3fc1b5;border-radius:1px;font-size:4.6px;line-height:10.4px;color:#fff">删除</div>
<div style="left:81.5px;top:1764.6px;width:705px;height:0.7px;background:#ececec;"></div>
<div class="t" style="left:87px;top:1753.66px;font-size:5.6px;line-height:7.28px;color:#666;">877</div>
<div class="t" style="left:127px;top:1753.66px;font-size:5.6px;line-height:7.28px;color:#666;">10000470</div>
<div class="t" style="left:199px;top:1753.66px;font-size:5.6px;line-height:7.28px;color:#666;"><span class="c" style="font-size:0.96em">冬天的阳光</span></div>
<div class="t" style="left:275px;top:1753.66px;font-size:5.6px;line-height:7.28px;color:#666;">2020-09-25 17:05:09</div>
<div class="t" style="left:408px;top:1753.72px;font-size:5.5px;line-height:7.15px;color:#f0303a;">¥100</div>
<div class="t" style="left:497px;top:1753.72px;font-size:5.5px;line-height:7.15px;color:#f0303a;">1011.62</div>
<div class="t" style="left:626px;top:1754.05px;font-size:5px;line-height:6.50px;color:#3aa03a;">已通过</div>
<div class="b bs" style="left:643.75px;top:1752.1px;width:14.25px;height:8.4px;background:#3fc1b5;border-radius:1px;font-size:4.6px;line-height:10.4px;color:#fff">删除</div>
<div style="left:81.5px;top:1765.3px;width:705px;height:18.0px;background:#f9f9f9;"></div>
<div style="left:81.5px;top:1782.6px;width:705px;height:0.7px;background:#ececec;"></div>
<div class="t" style="left:87px;top:1771.66px;font-size:5.6px;line-height:7.28px;color:#666;">876</div>
<div class="t" style="left:127px;top:1771.66px;font-size:5.6px;line-height:7.28px;color:#666;">10000470</div>
<div class="t" style="left:199px;top:1771.66px;font-size:5.6px;line-height:7.28px;color:#666;"><span class="c" style="font-size:0.96em">冬天的阳光</span></div>
<div class="t" style="left:275px;top:1771.66px;font-size:5.6px;line-height:7.28px;color:#666;">2020-09-25 17:03:47</div>
<div class="t" style="left:408px;top:1771.72px;font-size:5.5px;line-height:7.15px;color:#f0303a;">¥100</div>
<div class="t" style="left:497px;top:1771.72px;font-size:5.5px;line-height:7.15px;color:#f0303a;">911.62</div>
<div class="t" style="left:585px;top:1771.72px;font-size:5.5px;line-height:7.15px;color:#777;">yhk</div>
<div class="t" style="left:626px;top:1772.05px;font-size:5px;line-height:6.50px;color:#f0303a;">已拒绝</div>
<div class="b bs" style="left:643.75px;top:1770.1px;width:14.25px;height:8.4px;background:#3fc1b5;border-radius:1px;font-size:4.6px;line-height:10.4px;color:#fff">删除</div>
<div style="left:81.5px;top:1800.6px;width:705px;height:0.7px;background:#ececec;"></div>
<div class="t" style="left:87px;top:1789.66px;font-size:5.6px;line-height:7.28px;color:#666;">875</div>
<div class="t" style="left:127px;top:1789.66px;font-size:5.6px;line-height:7.28px;color:#666;">10000470</div>
<div class="t" style="left:199px;top:1789.66px;font-size:5.6px;line-height:7.28px;color:#666;"><span class="c" style="font-size:0.96em">冬天的阳光</span></div>
<div class="t" style="left:275px;top:1789.66px;font-size:5.6px;line-height:7.28px;color:#666;">2020-09-25 16:22:25</div>
<div class="t" style="left:408px;top:1789.72px;font-size:5.5px;line-height:7.15px;color:#f0303a;">¥100</div>
<div class="t" style="left:497px;top:1789.72px;font-size:5.5px;line-height:7.15px;color:#f0303a;">911.62</div>
<div class="t" style="left:585px;top:1789.72px;font-size:5.5px;line-height:7.15px;color:#777;">yhk</div>
<div class="t" style="left:626px;top:1790.05px;font-size:5px;line-height:6.50px;color:#f0303a;">已拒绝</div>
<div class="b bs" style="left:643.75px;top:1788.1px;width:14.25px;height:8.4px;background:#3fc1b5;border-radius:1px;font-size:4.6px;line-height:10.4px;color:#fff">删除</div>
<div style="left:81.5px;top:1801.3px;width:705px;height:10px;background:#f9f9f9;"></div>
</body></html>
